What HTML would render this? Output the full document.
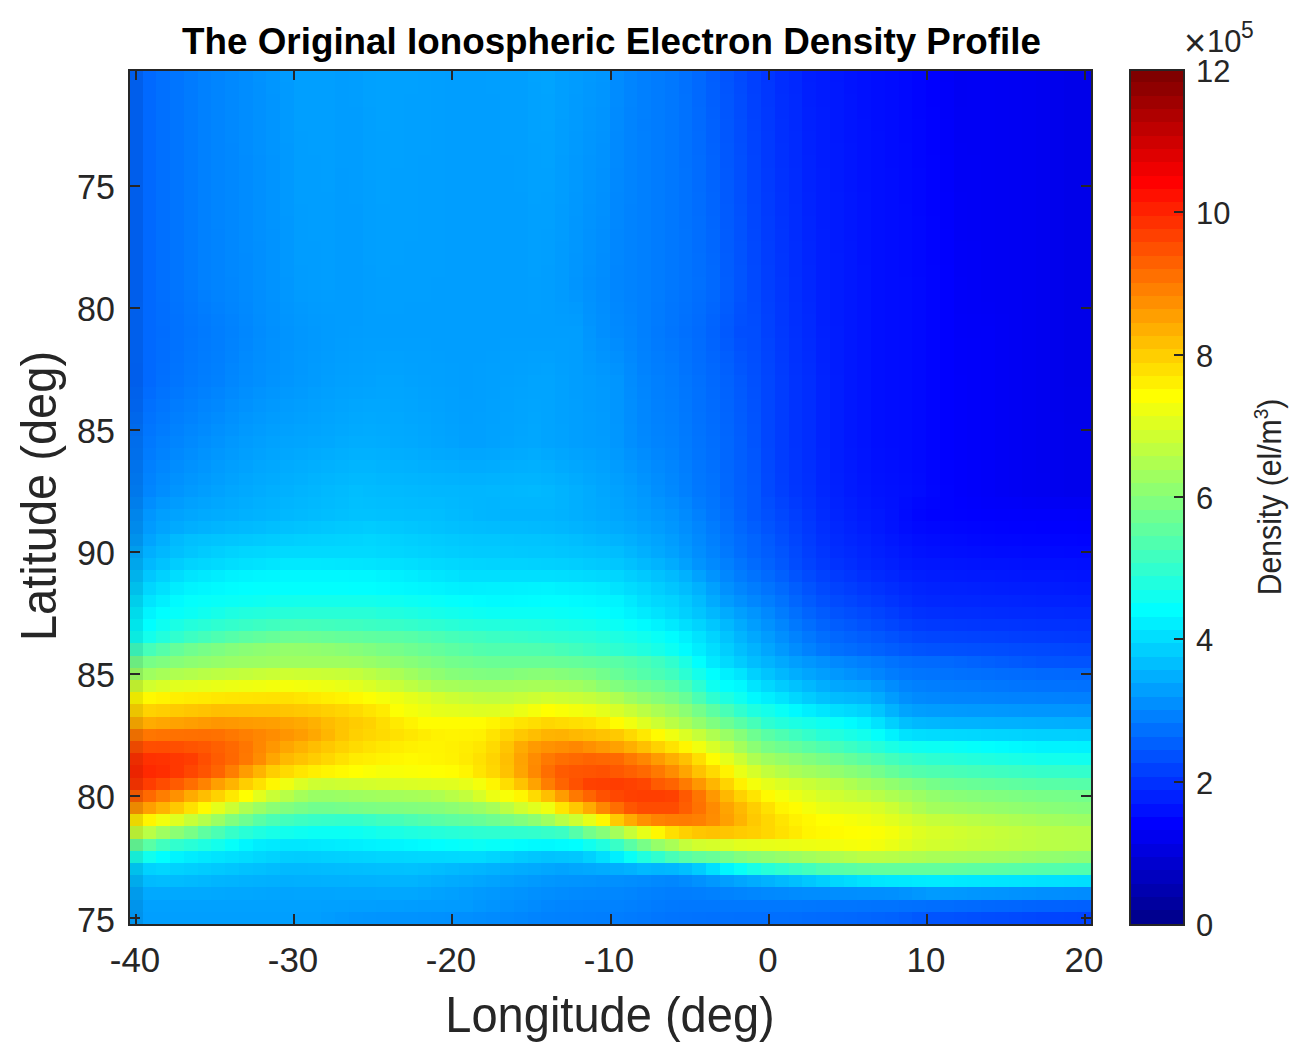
<!DOCTYPE html>
<html><head><meta charset="utf-8">
<style>
html,body{margin:0;padding:0;background:#fff;}
body{width:1312px;height:1060px;position:relative;overflow:hidden;font-family:"Liberation Sans",sans-serif;color:#262626;}
.t{position:absolute;white-space:nowrap;line-height:1;}
#title{left:1.5px;width:1220px;text-align:center;top:24px;font-size:36.8px;font-weight:bold;color:#000;}
.yl{right:1197.5px;font-size:34.9px;transform:scaleX(0.975);transform-origin:100% 50%;}
.xl{width:100px;text-align:center;font-size:34.9px;top:943px;transform:translateX(-1px) scaleX(1.0);}
.cl{left:1196px;font-size:31.9px;transform:scaleX(0.97);transform-origin:0 50%;}
#xlab{left:0;width:1220px;text-align:center;top:989.5px;font-size:49.5px;transform:scaleX(0.95);}
#ylab{font-size:49.5px;left:39px;top:495.7px;transform:translate(-50%,-50%) rotate(-90deg) scaleX(0.95);}
#clab{font-size:33.5px;left:1268px;top:497px;transform:translate(-50%,-50%) rotate(-90deg) scaleX(0.9);}
</style></head><body>
<svg width="1312" height="1060" style="position:absolute;left:0;top:0" shape-rendering="crispEdges">
<path fill="#005eeb" d="M129 70h14v12h-14zM129 82h14v12h-14zM129 94h14v13h-14zM129 107h14v12h-14zM129 119h14v12h-14zM129 131h14v12h-14zM129 143h14v12h-14zM129 155h14v13h-14zM129 168h14v12h-14zM129 180h14v12h-14zM129 192h14v12h-14zM129 204h14v12h-14zM129 216h14v13h-14zM129 229h14v12h-14zM129 241h14v12h-14zM129 253h14v12h-14zM129 265h14v12h-14zM129 277h14v13h-14zM129 290h14v12h-14zM129 363h14v12h-14zM129 375h14v12h-14z"/><path fill="#0069ff" d="M143 70h13v12h-13zM692 70h14v12h-14zM143 82h13v12h-13zM692 82h14v12h-14zM143 94h13v13h-13zM692 94h14v13h-14zM143 107h13v12h-13zM143 119h13v12h-13zM143 131h13v12h-13zM143 143h13v12h-13zM143 155h13v13h-13zM143 168h13v12h-13zM143 180h13v12h-13zM143 192h13v12h-13zM143 204h13v12h-13zM143 216h13v13h-13zM143 229h13v12h-13zM143 241h13v12h-13zM143 253h13v12h-13zM143 265h13v12h-13zM706 265h14v12h-14zM143 277h13v13h-13zM706 277h14v13h-14zM143 290h13v12h-13zM143 302h13v12h-13zM143 314h13v12h-13zM143 326h13v12h-13zM143 338h13v13h-13zM143 351h13v12h-13zM143 363h13v12h-13zM143 375h13v12h-13zM706 375h14v12h-14zM940 656h14v12h-14zM1036 668h28v12h-28zM830 912h14v12h-14z"/><path fill="#0070ff" d="M156 70h14v12h-14zM156 82h14v12h-14zM156 94h14v13h-14zM156 107h14v12h-14zM156 119h14v12h-14zM156 131h14v12h-14zM156 143h14v12h-14zM156 155h14v13h-14zM156 168h14v12h-14zM156 180h14v12h-14zM156 192h14v12h-14zM156 204h14v12h-14zM156 216h14v13h-14zM156 229h14v12h-14zM156 241h14v12h-14zM156 253h14v12h-14zM156 265h14v12h-14zM156 277h14v13h-14zM692 277h14v13h-14zM679 326h13v12h-13zM156 375h14v12h-14zM692 375h14v12h-14zM143 399h13v13h-13zM706 460h14v13h-14zM789 607h13v12h-13zM830 643h14v13h-14zM967 668h14v12h-14zM912 900h14v12h-14zM734 912h27v12h-27z"/><path fill="#0075ff" d="M170 70h14v12h-14zM170 82h14v12h-14zM170 94h14v13h-14zM170 107h14v12h-14zM170 119h14v12h-14zM170 131h14v12h-14zM170 143h14v12h-14zM170 155h14v13h-14zM170 168h14v12h-14zM170 180h14v12h-14zM170 192h14v12h-14zM170 204h14v12h-14zM170 216h14v13h-14zM170 229h14v12h-14zM170 241h14v12h-14zM170 253h14v12h-14zM170 265h14v12h-14zM170 277h14v13h-14zM665 326h14v12h-14zM170 375h14v12h-14zM692 448h14v12h-14zM706 497h14v12h-14zM720 534h14v12h-14zM734 558h13v12h-13zM912 668h14v12h-14zM1009 680h13v12h-13zM830 900h27v12h-27z"/><path fill="#007bff" d="M184 70h14v12h-14zM184 82h14v12h-14zM184 94h14v13h-14zM184 107h14v12h-14zM184 119h14v12h-14zM184 131h14v12h-14zM184 143h14v12h-14zM184 155h14v13h-14zM184 168h14v12h-14zM184 180h14v12h-14zM184 192h14v12h-14zM184 204h14v12h-14zM184 216h14v13h-14zM184 229h14v12h-14zM184 241h14v12h-14zM184 253h14v12h-14zM184 265h14v12h-14zM184 277h14v13h-14zM651 302h14v12h-14zM198 314h13v12h-13zM651 314h14v12h-14zM198 338h13v13h-13zM651 338h14v13h-14zM665 363h14v12h-14zM679 436h13v12h-13zM954 680h13v12h-13zM651 900h14v12h-14zM624 912h13v12h-13z"/><path fill="#0081ff" d="M198 70h13v12h-13zM198 82h13v12h-13zM198 94h13v13h-13zM198 107h13v12h-13zM198 119h13v12h-13zM198 131h13v12h-13zM198 143h13v12h-13zM198 155h13v13h-13zM198 168h13v12h-13zM198 180h13v12h-13zM198 192h13v12h-13zM198 204h13v12h-13zM198 216h13v13h-13zM198 229h13v12h-13zM198 241h13v12h-13zM198 253h13v12h-13zM198 265h13v12h-13zM198 277h13v13h-13zM211 302h14v12h-14zM637 338h14v13h-14zM211 375h14v12h-14zM198 387h13v12h-13zM651 399h14v13h-14zM665 436h14v12h-14zM679 485h13v12h-13zM692 509h14v12h-14zM1036 692h28v12h-28zM706 887h14v13h-14zM555 912h14v12h-14z"/><path fill="#0085ff" d="M211 70h14v12h-14zM624 70h13v12h-13zM211 82h14v12h-14zM624 82h13v12h-13zM211 94h14v13h-14zM624 94h13v13h-13zM211 107h14v12h-14zM211 119h14v12h-14zM211 131h14v12h-14zM211 143h14v12h-14zM211 155h14v13h-14zM211 168h14v12h-14zM211 180h14v12h-14zM211 192h14v12h-14zM211 204h14v12h-14zM211 216h14v13h-14zM225 302h14v12h-14zM624 314h13v12h-13zM637 375h14v12h-14zM211 387h14v12h-14zM198 399h13v13h-13zM170 436h14v12h-14zM665 460h14v13h-14zM871 668h14v12h-14zM954 692h27v12h-27zM624 887h13v13h-13zM734 887h13v13h-13zM555 900h14v12h-14z"/><path fill="#0089ff" d="M225 70h14v12h-14zM225 82h14v12h-14zM225 94h14v13h-14zM225 107h14v12h-14zM225 119h14v12h-14zM225 131h14v12h-14zM610 168h14v12h-14zM610 180h14v12h-14zM239 302h14v12h-14zM610 314h14v12h-14zM624 351h13v12h-13zM637 436h14v12h-14zM170 448h14v12h-14zM665 485h14v12h-14zM761 607h14v12h-14zM830 656h14v12h-14zM651 875h14v12h-14zM583 887h13v13h-13zM761 887h14v13h-14zM500 912h14v12h-14z"/><path fill="#008dff" d="M239 70h14v12h-14zM239 82h14v12h-14zM239 94h14v13h-14zM239 107h14v12h-14zM239 119h14v12h-14zM239 131h14v12h-14zM239 143h14v12h-14zM596 253h14v12h-14zM596 265h14v12h-14zM596 290h14v12h-14zM253 314h13v12h-13zM253 338h13v13h-13zM610 338h14v13h-14zM624 387h13v12h-13zM637 448h14v12h-14zM170 460h14v13h-14zM651 473h14v12h-14zM789 643h13v13h-13zM885 680h14v12h-14zM802 887h28v13h-28zM1064 887h13v13h-13zM473 912h13v12h-13z"/><path fill="#0092ff" d="M253 70h13v12h-13zM596 143h14v12h-14zM596 155h14v13h-14zM583 229h13v12h-13zM583 241h13v12h-13zM583 253h13v12h-13zM266 290h14v12h-14zM583 290h13v12h-13zM596 338h14v13h-14zM266 363h14v12h-14zM239 399h14v13h-14zM184 460h14v13h-14zM761 619h14v12h-14zM844 668h13v12h-13zM1009 887h13v13h-13zM418 912h13v12h-13z"/><path fill="#0096ff" d="M266 70h14v12h-14zM596 70h14v12h-14zM266 82h14v12h-14zM583 131h13v12h-13zM583 143h13v12h-13zM569 253h14v12h-14zM569 265h14v12h-14zM280 302h14v12h-14zM583 326h13v12h-13zM280 375h14v12h-14zM610 375h14v12h-14zM266 387h14v12h-14zM610 387h14v12h-14zM253 399h13v13h-13zM610 399h14v13h-14zM239 412h14v12h-14zM610 412h14v12h-14zM198 460h13v13h-13zM624 460h13v13h-13zM184 473h14v12h-14zM143 509h13v12h-13zM1022 704h28v13h-28zM967 887h14v13h-14zM349 912h14v12h-14z"/><path fill="#009bff" d="M280 70h14v12h-14zM569 94h14v13h-14zM569 107h14v12h-14zM569 119h14v12h-14zM555 241h14v12h-14zM555 253h14v12h-14zM555 265h14v12h-14zM555 277h14v13h-14zM294 290h14v12h-14zM555 290h14v12h-14zM308 302h13v12h-13zM321 314h14v12h-14zM321 326h14v12h-14zM321 338h14v13h-14zM308 363h13v12h-13zM308 375h13v12h-13zM294 387h14v12h-14zM596 412h14v12h-14zM596 424h14v12h-14zM225 448h14v12h-14zM211 460h14v13h-14zM143 521h13v13h-13zM940 704h14v13h-14zM926 887h14v13h-14zM445 900h28v12h-28z"/><path fill="#009fff" d="M294 70h41v12h-41zM431 70h14v12h-14zM486 70h42v12h-42zM555 70h14v12h-14zM294 82h41v12h-41zM431 82h14v12h-14zM486 82h42v12h-42zM555 82h14v12h-14zM294 94h41v13h-41zM431 94h14v13h-14zM500 94h28v13h-28zM555 94h14v13h-14zM294 107h41v12h-41zM431 107h14v12h-14zM500 107h28v12h-28zM555 107h14v12h-14zM294 119h41v12h-41zM431 119h14v12h-14zM500 119h28v12h-28zM308 131h27v12h-27zM431 131h14v12h-14zM500 131h28v12h-28zM308 143h27v12h-27zM431 143h14v12h-14zM500 143h28v12h-28zM321 155h14v13h-14zM418 155h27v13h-27zM514 155h14v13h-14zM321 168h14v12h-14zM418 168h27v12h-27zM514 168h14v12h-14zM321 180h14v12h-14zM363 180h13v12h-13zM418 180h27v12h-27zM514 180h14v12h-14zM363 192h13v12h-13zM418 192h27v12h-27zM363 204h13v12h-13zM418 204h27v12h-27zM363 216h13v13h-13zM418 216h27v13h-27zM363 229h13v12h-13zM418 229h27v12h-27zM541 229h14v12h-14zM363 241h13v12h-13zM404 241h41v12h-41zM541 241h14v12h-14zM363 253h13v12h-13zM404 253h41v12h-41zM541 253h14v12h-14zM390 265h55v12h-55zM376 277h55v13h-55zM528 277h13v13h-13zM376 290h55v12h-55zM528 290h13v12h-13zM376 302h28v12h-28zM528 302h13v12h-13zM363 338h68v13h-68zM500 338h69v13h-69zM349 351h14v12h-14zM431 351h14v12h-14zM486 351h14v12h-14zM555 351h14v12h-14zM335 363h14v12h-14zM445 363h14v12h-14zM473 363h13v12h-13zM445 375h14v12h-14zM473 375h13v12h-13zM473 387h13v12h-13zM459 399h27v13h-27zM569 399h14v13h-14zM459 412h14v12h-14zM569 412h14v12h-14zM266 424h14v12h-14zM569 424h14v12h-14zM253 436h13v12h-13zM569 436h14v12h-14zM239 448h14v12h-14zM225 460h14v13h-14zM610 473h14v12h-14zM624 497h13v12h-13zM156 509h14v12h-14zM734 607h13v12h-13zM789 656h13v12h-13zM720 875h14v12h-14zM349 900h27v12h-27zM143 912h178v12h-178z"/><path fill="#009dff" d="M335 70h14v12h-14zM335 82h14v12h-14zM335 94h14v13h-14zM335 107h28v12h-28zM335 119h28v12h-28zM335 131h28v12h-28zM335 143h28v12h-28zM335 155h28v13h-28zM555 155h14v13h-14zM349 168h14v12h-14zM555 168h14v12h-14zM349 180h14v12h-14zM555 180h14v12h-14zM349 192h14v12h-14zM555 192h14v12h-14zM294 204h14v12h-14zM294 216h14v13h-14zM294 229h14v12h-14zM294 241h27v12h-27zM294 253h27v12h-27zM308 265h13v12h-13zM308 277h13v13h-13zM321 290h14v12h-14zM555 314h14v12h-14zM349 326h14v12h-14zM335 338h14v13h-14zM321 363h14v12h-14zM583 412h13v12h-13zM583 424h13v12h-13zM583 436h13v12h-13zM624 485h13v12h-13zM637 509h14v12h-14zM651 521h14v13h-14zM665 534h14v12h-14zM514 875h14v12h-14zM459 887h14v13h-14zM404 900h14v12h-14z"/><path fill="#009eff" d="M349 70h14v12h-14zM445 70h41v12h-41zM349 82h14v12h-14zM445 82h41v12h-41zM349 94h14v13h-14zM445 94h55v13h-55zM445 107h55v12h-55zM445 119h55v12h-55zM555 119h14v12h-14zM294 131h14v12h-14zM445 131h55v12h-55zM555 131h14v12h-14zM294 143h14v12h-14zM445 143h55v12h-55zM555 143h14v12h-14zM294 155h27v13h-27zM445 155h69v13h-69zM294 168h27v12h-27zM445 168h69v12h-69zM294 180h27v12h-27zM445 180h69v12h-69zM294 192h41v12h-41zM445 192h83v12h-83zM308 204h27v12h-27zM445 204h83v12h-83zM308 216h27v13h-27zM445 216h83v13h-83zM308 229h27v12h-27zM445 229h83v12h-83zM321 241h14v12h-14zM445 241h83v12h-83zM321 253h14v12h-14zM445 253h83v12h-83zM321 265h14v12h-14zM363 265h13v12h-13zM445 265h83v12h-83zM541 265h14v12h-14zM321 277h14v13h-14zM363 277h13v13h-13zM431 277h97v13h-97zM541 277h14v13h-14zM363 290h13v12h-13zM431 290h97v12h-97zM541 290h14v12h-14zM363 302h13v12h-13zM404 302h124v12h-124zM541 302h14v12h-14zM363 314h192v12h-192zM363 326h220v12h-220zM349 338h14v13h-14zM431 338h69v13h-69zM569 338h14v13h-14zM335 351h14v12h-14zM445 351h41v12h-41zM569 351h14v12h-14zM459 363h14v12h-14zM569 363h14v12h-14zM321 375h14v12h-14zM459 375h14v12h-14zM569 375h14v12h-14zM308 387h13v12h-13zM459 387h14v12h-14zM569 387h14v12h-14zM294 399h14v13h-14zM280 412h14v12h-14zM596 448h14v12h-14zM211 473h14v12h-14zM198 485h13v12h-13zM747 619h14v12h-14zM816 668h14v12h-14zM912 704h14v13h-14zM376 900h28v12h-28z"/><path fill="#00a1ff" d="M363 70h13v12h-13zM390 70h28v12h-28zM363 82h13v12h-13zM390 82h28v12h-28zM363 94h13v13h-13zM390 94h14v13h-14zM390 107h14v12h-14zM390 119h14v12h-14zM376 131h28v12h-28zM376 143h28v12h-28zM528 143h13v12h-13zM376 155h28v13h-28zM528 155h13v13h-13zM376 168h14v12h-14zM528 168h27v12h-27zM376 180h14v12h-14zM528 180h27v12h-27zM376 192h14v12h-14zM528 192h13v12h-13zM376 351h28v12h-28zM528 351h27v12h-27zM363 363h13v12h-13zM404 363h14v12h-14zM514 363h14v12h-14zM349 375h14v12h-14zM418 375h13v12h-13zM500 375h14v12h-14zM555 375h14v12h-14zM431 387h14v12h-14zM555 387h14v12h-14zM486 399h14v13h-14zM555 399h14v13h-14zM445 412h14v12h-14zM486 412h14v12h-14zM555 412h14v12h-14zM280 424h14v12h-14zM583 448h13v12h-13zM596 460h14v13h-14zM184 497h14v12h-14zM679 558h13v12h-13zM706 582h14v13h-14zM857 680h14v12h-14zM143 900h178v12h-178z"/><path fill="#00a2ff" d="M376 70h14v12h-14zM376 82h14v12h-14zM528 82h13v12h-13zM376 94h14v13h-14zM528 94h13v13h-13zM376 107h14v12h-14zM528 107h13v12h-13zM376 119h14v12h-14zM528 119h13v12h-13zM528 131h27v12h-27zM541 143h14v12h-14zM541 155h14v13h-14zM376 363h28v12h-28zM528 363h13v12h-13zM363 375h13v12h-13zM404 375h14v12h-14zM514 375h14v12h-14zM335 387h14v12h-14zM418 387h13v12h-13zM500 387h14v12h-14zM321 399h14v13h-14zM431 399h14v13h-14zM500 399h14v13h-14zM308 412h13v12h-13zM445 424h14v12h-14zM486 424h14v12h-14zM555 424h14v12h-14zM266 436h14v12h-14zM486 436h14v12h-14zM555 436h14v12h-14zM253 448h13v12h-13zM239 460h14v13h-14zM225 473h14v12h-14zM211 485h14v12h-14zM610 485h14v12h-14zM624 509h13v12h-13zM637 521h14v13h-14zM665 546h14v12h-14zM692 570h14v12h-14zM431 887h14v13h-14z"/><path fill="#00a0ff" d="M418 70h13v12h-13zM418 82h13v12h-13zM404 94h27v13h-27zM363 107h13v12h-13zM404 107h27v12h-27zM363 119h13v12h-13zM404 119h27v12h-27zM363 131h13v12h-13zM404 131h27v12h-27zM363 143h13v12h-13zM404 143h27v12h-27zM363 155h13v13h-13zM404 155h14v13h-14zM363 168h13v12h-13zM390 168h28v12h-28zM390 180h28v12h-28zM390 192h28v12h-28zM541 192h14v12h-14zM376 204h42v12h-42zM528 204h27v12h-27zM376 216h42v13h-42zM528 216h27v13h-27zM376 229h42v12h-42zM528 229h13v12h-13zM376 241h28v12h-28zM528 241h13v12h-13zM376 253h28v12h-28zM528 253h13v12h-13zM376 265h14v12h-14zM528 265h13v12h-13zM363 351h13v12h-13zM404 351h27v12h-27zM500 351h28v12h-28zM349 363h14v12h-14zM418 363h27v12h-27zM486 363h28v12h-28zM555 363h14v12h-14zM335 375h14v12h-14zM431 375h14v12h-14zM486 375h14v12h-14zM321 387h14v12h-14zM445 387h14v12h-14zM486 387h14v12h-14zM308 399h13v13h-13zM445 399h14v13h-14zM294 412h14v12h-14zM473 412h13v12h-13zM459 424h27v12h-27zM459 436h27v12h-27zM500 875h14v12h-14zM445 887h14v13h-14zM321 900h28v12h-28z"/><path fill="#00a3ff" d="M528 70h13v12h-13zM541 94h14v13h-14zM541 107h14v12h-14zM541 119h14v12h-14zM541 363h14v12h-14zM349 387h14v12h-14zM514 387h14v12h-14zM418 399h13v13h-13zM431 412h14v12h-14zM500 412h14v12h-14zM294 424h14v12h-14zM500 424h14v12h-14zM445 436h14v12h-14zM569 448h14v12h-14zM170 509h14v12h-14zM486 875h14v12h-14z"/><path fill="#00a4ff" d="M541 70h14v12h-14zM541 82h14v12h-14zM376 375h28v12h-28zM528 375h27v12h-27zM363 387h13v12h-13zM404 387h14v12h-14zM528 387h27v12h-27zM335 399h14v13h-14zM514 399h14v13h-14zM541 399h14v13h-14zM321 412h14v12h-14zM514 412h14v12h-14zM541 412h14v12h-14zM308 424h13v12h-13zM431 424h14v12h-14zM541 424h14v12h-14zM280 436h14v12h-14zM500 436h14v12h-14zM541 436h14v12h-14zM583 460h13v13h-13zM596 473h14v12h-14zM198 497h13v12h-13zM610 497h14v12h-14zM156 521h14v13h-14zM143 534h13v12h-13zM651 534h14v12h-14zM844 680h13v12h-13zM899 704h13v13h-13zM555 863h14v12h-14zM280 887h14v13h-14z"/><path fill="#009cff" d="M569 70h14v12h-14zM569 82h14v12h-14zM335 168h14v12h-14zM335 180h14v12h-14zM335 192h14v12h-14zM335 204h28v12h-28zM555 204h14v12h-14zM335 216h28v13h-28zM555 216h14v13h-14zM335 229h28v12h-28zM555 229h14v12h-14zM335 241h28v12h-28zM335 253h28v12h-28zM294 265h14v12h-14zM335 265h28v12h-28zM294 277h14v13h-14zM335 277h28v13h-28zM308 290h13v12h-13zM335 290h28v12h-28zM321 302h42v12h-42zM555 302h14v12h-14zM335 314h28v12h-28zM569 314h14v12h-14zM335 326h14v12h-14zM321 351h14v12h-14zM583 375h13v12h-13zM583 387h13v12h-13zM280 399h14v13h-14zM583 399h13v13h-13zM266 412h14v12h-14zM253 424h13v12h-13zM239 436h14v12h-14zM596 436h14v12h-14zM610 460h14v13h-14zM170 497h14v12h-14zM720 595h14v12h-14zM761 631h14v12h-14zM885 692h14v12h-14zM926 704h14v13h-14zM418 900h27v12h-27zM321 912h14v12h-14z"/><path fill="#0099ff" d="M583 70h13v12h-13zM280 143h14v12h-14zM280 155h14v13h-14zM569 155h14v13h-14zM280 168h14v12h-14zM569 168h14v12h-14zM280 180h14v12h-14zM569 180h14v12h-14zM280 192h14v12h-14zM280 204h14v12h-14zM294 302h14v12h-14zM308 326h13v12h-13zM308 338h13v13h-13zM583 351h13v12h-13zM294 375h14v12h-14zM596 375h14v12h-14zM280 387h14v12h-14zM266 399h14v13h-14zM253 412h13v12h-13zM239 424h14v12h-14zM679 546h13v12h-13zM775 643h14v13h-14zM967 704h28v13h-28zM940 887h14v13h-14zM335 912h14v12h-14z"/><path fill="#008cff" d="M610 70h14v12h-14zM610 82h14v12h-14zM610 94h14v13h-14zM239 155h14v13h-14zM239 168h14v12h-14zM239 180h14v12h-14zM239 192h14v12h-14zM239 204h14v12h-14zM239 216h14v13h-14zM239 229h14v12h-14zM239 241h14v12h-14zM596 277h14v13h-14zM253 326h13v12h-13zM239 375h14v12h-14zM624 375h13v12h-13zM211 412h14v12h-14zM857 668h14v12h-14zM637 875h14v12h-14zM555 887h14v13h-14zM789 887h13v13h-13zM1077 887h14v13h-14z"/><path fill="#0080ff" d="M637 70h14v12h-14zM637 82h14v12h-14zM637 94h14v13h-14zM637 107h14v12h-14zM637 131h14v12h-14zM637 143h14v12h-14zM637 155h14v13h-14zM637 168h14v12h-14zM637 180h14v12h-14zM637 192h14v12h-14zM637 204h14v12h-14zM637 216h14v13h-14zM637 229h14v12h-14zM637 241h14v12h-14zM637 253h14v12h-14zM637 265h14v12h-14zM637 277h14v13h-14zM637 290h14v12h-14zM637 302h14v12h-14zM637 314h14v12h-14zM637 326h14v12h-14zM211 363h14v12h-14zM651 375h14v12h-14zM651 387h14v12h-14zM184 399h14v13h-14zM665 424h14v12h-14zM156 436h14v12h-14zM143 460h13v13h-13zM679 473h13v12h-13zM706 534h14v12h-14zM720 558h14v12h-14zM912 680h14v12h-14zM1064 692h27v12h-27zM651 887h14v13h-14zM624 900h13v12h-13zM569 912h14v12h-14z"/><path fill="#007cff" d="M651 70h14v12h-14zM651 82h14v12h-14zM651 94h14v13h-14zM651 107h14v12h-14zM651 119h14v12h-14zM651 131h14v12h-14zM651 143h14v12h-14zM651 155h14v13h-14zM651 168h14v12h-14zM651 180h14v12h-14zM651 192h14v12h-14zM651 204h14v12h-14zM651 216h14v13h-14zM651 229h14v12h-14zM651 241h14v12h-14zM651 253h14v12h-14zM651 265h14v12h-14zM651 277h14v13h-14zM651 290h14v12h-14zM198 351h13v12h-13zM665 375h14v12h-14zM170 399h14v13h-14zM156 424h14v12h-14zM143 448h13v12h-13zM679 448h13v12h-13zM692 497h14v12h-14zM706 521h14v13h-14zM734 570h13v12h-13zM775 607h14v12h-14zM940 680h14v12h-14z"/><path fill="#0078ff" d="M665 70h14v12h-14zM665 82h14v12h-14zM665 94h14v13h-14zM665 107h14v12h-14zM665 119h14v12h-14zM665 131h14v12h-14zM665 143h14v12h-14zM665 155h14v13h-14zM665 168h14v12h-14zM665 180h14v12h-14zM665 192h14v12h-14zM665 204h14v12h-14zM665 216h14v13h-14zM665 229h14v12h-14zM665 241h14v12h-14zM665 253h14v12h-14zM665 265h14v12h-14zM665 277h14v13h-14zM184 302h14v12h-14zM184 351h14v12h-14zM170 387h14v12h-14zM679 399h13v13h-13zM692 485h14v12h-14zM802 631h14v12h-14zM816 643h14v13h-14zM899 668h13v12h-13zM981 680h14v12h-14zM679 900h123v12h-123z"/><path fill="#0071ff" d="M679 70h13v12h-13zM679 82h13v12h-13zM679 314h13v12h-13zM692 387h14v12h-14zM692 399h14v13h-14zM720 521h14v13h-14zM954 668h13v12h-13zM1077 680h14v12h-14zM899 900h13v12h-13zM706 912h28v12h-28z"/><path fill="#005eff" d="M706 70h14v12h-14zM720 277h14v13h-14zM720 351h14v12h-14zM734 436h13v12h-13zM734 448h13v12h-13zM747 521h14v13h-14zM789 582h13v13h-13zM899 912h13v12h-13z"/><path fill="#0054ff" d="M720 70h14v12h-14zM734 265h13v12h-13zM734 277h13v13h-13zM734 351h13v12h-13zM747 424h14v12h-14zM747 436h14v12h-14zM761 521h14v13h-14zM775 546h14v12h-14zM789 570h13v12h-13zM912 643h14v13h-14zM1036 656h28v12h-28zM926 912h14v12h-14z"/><path fill="#004aff" d="M734 70h13v12h-13zM747 290h14v12h-14zM802 570h14v12h-14zM830 595h14v12h-14zM1022 643h14v13h-14zM1009 912h13v12h-13z"/><path fill="#0040ff" d="M747 70h14v12h-14zM747 82h14v12h-14zM761 302h14v12h-14zM899 619h13v12h-13zM995 631h14v12h-14z"/><path fill="#0036ff" d="M761 70h14v12h-14zM775 277h14v13h-14zM775 290h14v12h-14zM789 485h13v12h-13zM899 607h13v12h-13zM967 619h14v12h-14z"/><path fill="#002dff" d="M775 70h14v12h-14zM775 82h14v12h-14zM789 241h13v12h-13zM789 253h13v12h-13zM789 265h13v12h-13zM802 375h14v12h-14zM802 387h14v12h-14zM802 399h14v13h-14zM802 412h14v12h-14zM802 424h14v12h-14zM802 436h14v12h-14zM802 448h14v12h-14zM830 546h14v12h-14zM844 558h13v12h-13zM885 582h14v13h-14zM954 607h27v12h-27z"/><path fill="#0028ff" d="M789 70h13v12h-13zM789 82h13v12h-13zM802 302h14v12h-14zM899 582h13v13h-13zM1064 607h27v12h-27z"/><path fill="#001eff" d="M802 70h14v12h-14zM816 229h14v12h-14zM816 241h14v12h-14zM816 253h14v12h-14zM816 265h14v12h-14zM816 277h14v13h-14zM830 460h14v13h-14zM912 570h14v12h-14zM995 582h14v13h-14z"/><path fill="#001bff" d="M816 70h14v12h-14zM816 82h14v12h-14zM816 94h14v13h-14zM830 253h14v12h-14zM830 265h14v12h-14zM830 277h14v13h-14zM830 290h14v12h-14zM830 302h14v12h-14zM830 314h14v12h-14zM885 546h14v12h-14zM940 570h14v12h-14zM1050 582h14v13h-14z"/><path fill="#0017ff" d="M830 70h14v12h-14zM844 241h13v12h-13zM844 253h13v12h-13zM844 265h13v12h-13zM844 277h13v13h-13zM844 290h13v12h-13zM844 302h13v12h-13zM844 314h13v12h-13zM844 326h13v12h-13zM844 338h13v13h-13zM844 351h13v12h-13zM844 363h13v12h-13zM844 375h13v12h-13zM844 387h13v12h-13zM844 399h13v13h-13zM844 412h13v12h-13zM844 424h13v12h-13zM844 436h13v12h-13zM871 509h14v12h-14zM885 534h14v12h-14zM912 558h14v12h-14zM1009 570h13v12h-13z"/><path fill="#0013ff" d="M844 70h13v12h-13zM844 82h13v12h-13zM857 265h14v12h-14zM857 277h14v13h-14zM857 290h14v12h-14zM857 302h14v12h-14zM857 314h14v12h-14zM857 326h14v12h-14zM857 338h14v13h-14zM857 351h14v12h-14zM857 363h14v12h-14zM857 375h14v12h-14zM857 387h14v12h-14zM857 399h14v13h-14zM857 412h14v12h-14zM857 424h14v12h-14zM857 436h14v12h-14zM885 521h14v13h-14zM967 558h14v12h-14zM1077 570h14v12h-14z"/><path fill="#0010ff" d="M857 70h14v12h-14zM857 82h14v12h-14zM857 94h14v13h-14zM857 107h14v12h-14zM871 460h14v13h-14zM885 485h14v12h-14zM926 546h14v12h-14zM1022 558h28v12h-28z"/><path fill="#000dff" d="M871 70h14v12h-14zM871 82h14v12h-14zM871 94h14v13h-14zM871 107h14v12h-14zM871 119h14v12h-14zM885 448h14v12h-14zM899 473h13v12h-13zM899 521h13v13h-13zM967 546h14v12h-14z"/><path fill="#000bff" d="M885 70h14v12h-14zM885 82h14v12h-14zM885 94h14v13h-14zM885 107h14v12h-14zM885 119h14v12h-14zM885 131h14v12h-14zM885 143h14v12h-14zM885 155h14v13h-14zM899 277h13v13h-13zM899 290h13v12h-13zM899 302h13v12h-13zM899 314h13v12h-13zM899 326h13v12h-13zM899 338h13v13h-13zM899 351h13v12h-13zM899 363h13v12h-13zM899 375h13v12h-13zM899 387h13v12h-13zM899 399h13v13h-13zM899 412h13v12h-13zM899 424h13v12h-13zM899 436h13v12h-13zM899 448h13v12h-13zM912 485h14v12h-14zM899 509h13v12h-13zM940 534h14v12h-14zM995 546h27v12h-27z"/><path fill="#0008ff" d="M899 70h13v12h-13zM899 82h13v12h-13zM899 94h13v13h-13zM899 107h13v12h-13zM899 119h13v12h-13zM899 131h13v12h-13zM912 277h14v13h-14zM912 290h14v12h-14zM912 302h14v12h-14zM912 314h14v12h-14zM912 326h14v12h-14zM912 338h14v13h-14zM912 351h14v12h-14zM912 363h14v12h-14zM912 375h14v12h-14zM912 387h14v12h-14zM912 399h14v13h-14zM912 412h14v12h-14zM912 424h14v12h-14zM912 436h14v12h-14zM912 448h14v12h-14zM967 534h14v12h-14zM1064 546h27v12h-27z"/><path fill="#0004ff" d="M912 70h14v12h-14zM912 82h14v12h-14zM912 94h14v13h-14zM912 107h14v12h-14zM926 265h14v12h-14zM926 277h14v13h-14zM926 290h14v12h-14zM926 302h14v12h-14zM926 314h14v12h-14zM926 326h14v12h-14zM926 338h14v13h-14zM926 351h14v12h-14zM926 363h14v12h-14zM926 375h14v12h-14zM926 387h14v12h-14zM926 399h14v13h-14zM926 412h14v12h-14zM926 424h14v12h-14zM926 436h14v12h-14zM926 448h14v12h-14zM926 497h14v12h-14zM967 521h14v13h-14zM1050 534h27v12h-27z"/><path fill="#0000ff" d="M926 70h14v12h-14zM926 82h14v12h-14zM926 94h14v13h-14zM940 265h14v12h-14zM940 277h14v13h-14zM940 290h14v12h-14zM940 302h14v12h-14zM940 314h14v12h-14zM940 326h14v12h-14zM940 338h14v13h-14zM940 351h14v12h-14zM940 363h14v12h-14zM940 375h14v12h-14zM940 387h14v12h-14zM940 399h14v13h-14zM940 412h14v12h-14zM940 424h14v12h-14zM940 436h14v12h-14zM940 448h14v12h-14zM954 497h13v12h-13zM967 509h14v12h-14zM1036 521h14v13h-14z"/><path fill="#0000f9" d="M940 70h14v12h-14zM954 277h13v13h-13zM954 290h13v12h-13zM954 302h13v12h-13zM967 314h14v12h-14zM967 326h28v12h-28zM981 338h14v13h-14zM981 351h14v12h-14zM981 363h14v12h-14zM981 375h14v12h-14zM981 387h14v12h-14zM981 399h14v13h-14zM981 412h14v12h-14zM981 424h14v12h-14zM981 436h14v12h-14zM981 448h14v12h-14zM981 460h14v13h-14zM981 473h14v12h-14zM981 485h14v12h-14zM1009 497h13v12h-13z"/><path fill="#0000f4" d="M954 70h13v12h-13zM995 70h14v12h-14zM954 82h13v12h-13zM995 82h14v12h-14zM954 94h13v13h-13zM995 94h14v13h-14zM995 107h14v12h-14zM995 119h14v12h-14zM995 131h14v12h-14zM995 143h14v12h-14zM995 155h14v13h-14zM995 168h14v12h-14zM995 180h14v12h-14zM995 192h14v12h-14zM995 204h14v12h-14zM995 216h14v13h-14zM995 229h14v12h-14zM995 241h14v12h-14zM995 253h14v12h-14zM995 265h14v12h-14zM995 277h14v13h-14zM1009 290h13v12h-13zM1009 302h13v12h-13zM1009 314h13v12h-13zM1009 326h13v12h-13zM1009 338h13v13h-13zM1009 351h13v12h-13zM1009 363h13v12h-13zM1009 375h13v12h-13zM1009 387h13v12h-13zM1009 399h13v13h-13zM1009 412h13v12h-13zM1009 424h13v12h-13zM1009 436h13v12h-13zM1009 448h13v12h-13zM1009 460h13v13h-13zM1009 473h13v12h-13zM1009 485h13v12h-13zM1064 497h27v12h-27z"/><path fill="#0000f5" d="M967 70h28v12h-28zM967 82h28v12h-28zM967 94h28v13h-28zM954 107h41v12h-41zM954 119h41v12h-41zM954 131h41v12h-41zM967 143h28v12h-28zM981 155h14v13h-14zM981 168h14v12h-14zM981 180h14v12h-14zM981 192h14v12h-14zM981 204h14v12h-14zM981 216h14v13h-14zM981 229h14v12h-14zM981 241h14v12h-14zM981 253h14v12h-14zM981 265h14v12h-14zM981 277h14v13h-14zM995 290h14v12h-14zM995 302h14v12h-14zM1050 497h14v12h-14z"/><path fill="#0000f3" d="M1009 70h13v12h-13zM1009 82h13v12h-13zM1009 94h13v13h-13zM1009 107h13v12h-13zM1009 119h13v12h-13zM1009 131h13v12h-13zM1009 143h13v12h-13zM1009 155h13v13h-13zM1009 168h13v12h-13zM1009 180h13v12h-13zM1009 192h13v12h-13zM1009 204h13v12h-13zM1009 216h13v13h-13zM1009 229h13v12h-13zM1009 241h13v12h-13zM1009 253h13v12h-13zM1009 265h13v12h-13zM1009 277h13v13h-13z"/><path fill="#0000f2" d="M1022 70h14v12h-14zM1022 82h14v12h-14zM1022 94h14v13h-14zM1022 107h14v12h-14zM1022 119h14v12h-14zM1022 131h14v12h-14zM1022 143h14v12h-14zM1022 155h14v13h-14zM1022 168h14v12h-14zM1022 180h14v12h-14zM1022 192h14v12h-14zM1022 204h14v12h-14zM1022 216h14v13h-14zM1022 229h14v12h-14zM1022 241h14v12h-14zM1022 253h14v12h-14zM1022 265h14v12h-14zM1022 277h14v13h-14zM1022 290h14v12h-14zM1022 302h14v12h-14zM1022 314h14v12h-14zM1022 326h14v12h-14zM1022 338h14v13h-14zM1022 351h14v12h-14zM1022 363h14v12h-14zM1022 375h14v12h-14zM1022 387h14v12h-14zM1022 399h14v13h-14zM1022 412h14v12h-14zM1022 424h14v12h-14zM1022 436h14v12h-14zM1022 448h14v12h-14zM1022 460h14v13h-14zM1022 473h14v12h-14zM1022 485h14v12h-14z"/><path fill="#0000f0" d="M1036 70h14v12h-14zM1036 82h14v12h-14zM1036 94h14v13h-14zM1036 107h14v12h-14zM1036 119h14v12h-14zM1036 131h14v12h-14zM1036 143h14v12h-14zM1036 155h14v13h-14zM1036 168h14v12h-14zM1036 180h14v12h-14zM1036 192h14v12h-14zM1036 204h14v12h-14zM1036 216h14v13h-14zM1036 229h14v12h-14zM1036 241h14v12h-14zM1036 253h14v12h-14zM1036 265h14v12h-14zM1036 277h14v13h-14zM1036 290h14v12h-14zM1036 302h14v12h-14zM1036 314h14v12h-14zM1036 326h14v12h-14zM1036 338h14v13h-14zM1036 351h14v12h-14zM1036 363h14v12h-14zM1036 375h14v12h-14zM1036 387h14v12h-14zM1036 399h14v13h-14zM1036 412h14v12h-14zM1036 424h14v12h-14zM1036 436h14v12h-14zM1036 448h14v12h-14zM1036 460h14v13h-14z"/><path fill="#0000ed" d="M1050 70h14v12h-14zM1050 82h14v12h-14zM1050 94h14v13h-14zM1050 107h14v12h-14zM1050 119h14v12h-14zM1050 131h14v12h-14zM1050 143h14v12h-14zM1050 155h14v13h-14zM1050 168h14v12h-14zM1050 180h14v12h-14zM1050 192h14v12h-14zM1050 204h14v12h-14zM1050 216h14v13h-14zM1050 229h14v12h-14zM1050 241h14v12h-14zM1050 253h14v12h-14zM1050 265h14v12h-14zM1050 277h14v13h-14zM1050 290h14v12h-14zM1050 302h14v12h-14zM1050 314h14v12h-14zM1050 326h14v12h-14zM1050 338h14v13h-14zM1050 351h14v12h-14zM1050 363h14v12h-14zM1050 375h14v12h-14zM1050 387h14v12h-14zM1050 399h14v13h-14zM1064 460h27v13h-27zM1064 473h27v12h-27zM1064 485h27v12h-27z"/><path fill="#0000ea" d="M1064 70h27v12h-27zM1064 82h27v12h-27zM1064 94h27v13h-27zM1064 107h27v12h-27zM1064 119h27v12h-27zM1064 131h27v12h-27zM1064 143h27v12h-27zM1064 155h27v13h-27zM1064 168h27v12h-27zM1064 180h27v12h-27zM1064 192h27v12h-27zM1064 204h27v12h-27zM1064 216h27v13h-27zM1064 229h27v12h-27zM1064 241h27v12h-27zM1064 253h27v12h-27zM1064 265h27v12h-27zM1064 277h27v13h-27zM1064 290h27v12h-27zM1064 302h27v12h-27zM1064 314h27v12h-27zM1064 326h27v12h-27zM1064 338h27v13h-27zM1064 351h27v12h-27zM1064 363h27v12h-27zM1064 375h27v12h-27z"/><path fill="#0091ff" d="M253 82h13v12h-13zM253 94h13v13h-13zM253 107h13v12h-13zM253 119h13v12h-13zM253 131h13v12h-13zM253 143h13v12h-13zM596 168h14v12h-14zM596 180h14v12h-14zM583 265h13v12h-13zM266 302h14v12h-14zM266 314h14v12h-14zM266 338h14v13h-14zM266 351h14v12h-14zM225 412h14v12h-14zM170 473h14v12h-14zM720 582h14v13h-14zM734 595h13v12h-13zM596 875h14v12h-14zM692 875h14v12h-14zM1022 887h14v13h-14zM500 900h14v12h-14zM431 912h14v12h-14z"/><path fill="#009aff" d="M280 82h14v12h-14zM280 94h14v13h-14zM280 107h14v12h-14zM280 119h14v12h-14zM280 131h14v12h-14zM569 131h14v12h-14zM569 143h14v12h-14zM569 302h14v12h-14zM308 314h13v12h-13zM308 351h13v12h-13zM583 363h13v12h-13zM596 387h14v12h-14zM596 399h14v13h-14zM610 448h14v12h-14zM198 473h13v12h-13zM624 473h13v12h-13zM184 485h14v12h-14zM637 497h14v12h-14zM954 704h13v13h-13zM528 875h13v12h-13zM473 887h13v13h-13z"/><path fill="#0098ff" d="M583 82h13v12h-13zM583 94h13v13h-13zM569 192h14v12h-14zM569 204h14v12h-14zM280 216h14v13h-14zM280 229h14v12h-14zM280 241h14v12h-14zM280 253h14v12h-14zM280 265h14v12h-14zM294 314h14v12h-14zM294 351h14v12h-14zM294 363h14v12h-14zM225 436h14v12h-14zM651 509h14v12h-14zM830 668h14v12h-14zM871 680h14v12h-14zM995 704h14v13h-14zM706 875h14v12h-14zM486 887h14v13h-14zM954 887h13v13h-13z"/><path fill="#0095ff" d="M596 82h14v12h-14zM266 94h14v13h-14zM596 94h14v13h-14zM266 107h14v12h-14zM266 119h14v12h-14zM266 131h14v12h-14zM266 143h14v12h-14zM583 155h13v13h-13zM583 168h13v12h-13zM569 277h14v13h-14zM280 314h14v12h-14zM280 351h14v12h-14zM280 363h14v12h-14zM170 485h14v12h-14zM747 607h14v12h-14zM1050 704h27v13h-27zM555 875h14v12h-14zM500 887h14v13h-14zM981 887h14v13h-14zM363 912h13v12h-13z"/><path fill="#005fff" d="M706 82h14v12h-14zM706 94h14v13h-14zM734 460h13v13h-13zM734 473h13v12h-13z"/><path fill="#0055ff" d="M720 82h14v12h-14z"/><path fill="#004bff" d="M734 82h13v12h-13zM747 302h14v12h-14zM775 521h14v13h-14zM1009 643h13v13h-13z"/><path fill="#0037ff" d="M761 82h14v12h-14zM761 94h14v13h-14zM775 302h14v12h-14zM775 314h14v12h-14zM857 582h14v13h-14zM954 619h13v12h-13z"/><path fill="#001fff" d="M802 82h14v12h-14zM802 94h14v13h-14zM816 290h14v12h-14zM816 302h14v12h-14zM816 314h14v12h-14zM830 473h14v12h-14zM844 509h13v12h-13zM871 546h14v12h-14zM885 558h14v12h-14zM981 582h14v13h-14z"/><path fill="#0018ff" d="M830 82h14v12h-14zM830 94h14v13h-14zM830 107h14v12h-14zM830 119h14v12h-14zM830 131h14v12h-14zM844 448h13v12h-13zM857 497h14v12h-14zM871 521h14v13h-14zM995 570h14v12h-14z"/><path fill="#0000fa" d="M940 82h14v12h-14zM940 94h14v13h-14zM940 107h14v12h-14zM954 314h13v12h-13zM954 326h13v12h-13zM967 338h14v13h-14zM967 351h14v12h-14zM967 363h14v12h-14zM967 375h14v12h-14zM967 387h14v12h-14zM967 399h14v13h-14zM967 412h14v12h-14zM967 424h14v12h-14zM967 436h14v12h-14zM967 448h14v12h-14zM995 497h14v12h-14zM1077 509h14v12h-14z"/><path fill="#0072ff" d="M679 94h13v13h-13zM679 107h13v12h-13zM679 119h13v12h-13zM679 131h13v12h-13zM679 143h13v12h-13zM679 155h13v13h-13zM679 302h13v12h-13zM170 314h14v12h-14zM170 326h14v12h-14zM170 338h14v13h-14zM679 338h13v13h-13zM692 412h14v12h-14zM706 473h14v12h-14zM1050 680h27v12h-27zM692 912h14v12h-14z"/><path fill="#0056ff" d="M720 94h14v13h-14zM720 107h14v12h-14zM734 363h13v12h-13zM747 448h14v12h-14z"/><path fill="#004cff" d="M734 94h13v13h-13zM734 107h13v12h-13zM747 314h14v12h-14zM789 558h13v12h-13zM871 619h14v12h-14zM899 631h13v12h-13zM995 912h14v12h-14z"/><path fill="#0041ff" d="M747 94h14v13h-14zM747 107h14v12h-14zM761 314h14v12h-14zM761 326h14v12h-14zM789 521h13v13h-13zM816 570h14v12h-14zM981 631h14v12h-14z"/><path fill="#002eff" d="M775 94h14v13h-14zM775 107h14v12h-14zM789 277h13v13h-13zM789 290h13v12h-13zM802 460h14v13h-14zM816 521h14v13h-14zM899 595h13v12h-13zM940 607h14v12h-14z"/><path fill="#0029ff" d="M789 94h13v13h-13zM789 107h13v12h-13zM789 119h13v12h-13zM802 314h14v12h-14zM802 326h14v12h-14zM816 497h14v12h-14zM844 546h13v12h-13zM912 595h14v12h-14zM1036 607h28v12h-28z"/><path fill="#0014ff" d="M844 94h13v13h-13zM844 107h13v12h-13zM844 119h13v12h-13zM844 131h13v12h-13zM857 448h14v12h-14zM857 460h14v13h-14zM871 497h14v12h-14zM954 558h13v12h-13zM1064 570h13v12h-13z"/><path fill="#0097ff" d="M583 107h13v12h-13zM583 119h13v12h-13zM569 216h14v13h-14zM569 229h14v12h-14zM569 241h14v12h-14zM280 277h14v13h-14zM280 290h14v12h-14zM569 290h14v12h-14zM294 326h14v12h-14zM294 338h14v13h-14zM583 338h13v13h-13zM596 363h14v12h-14zM610 424h14v12h-14zM610 436h14v12h-14zM211 448h14v12h-14zM637 485h14v12h-14zM156 497h14v12h-14zM665 521h14v13h-14zM802 656h14v12h-14zM1009 704h13v13h-13zM541 875h14v12h-14zM912 887h14v13h-14zM473 900h13v12h-13z"/><path fill="#0094ff" d="M596 107h14v12h-14zM596 119h14v12h-14zM266 155h14v13h-14zM266 168h14v12h-14zM266 180h14v12h-14zM583 180h13v12h-13zM266 192h14v12h-14zM583 192h13v12h-13zM266 204h14v12h-14zM266 216h14v13h-14zM583 314h13v12h-13zM280 326h14v12h-14zM280 338h14v13h-14zM596 351h14v12h-14zM225 424h14v12h-14zM651 497h14v12h-14zM679 534h13v12h-13zM692 558h14v12h-14zM706 570h14v12h-14zM1077 704h14v13h-14zM569 875h14v12h-14zM995 887h14v13h-14zM486 900h14v12h-14zM376 912h14v12h-14z"/><path fill="#008bff" d="M610 107h14v12h-14zM610 119h14v12h-14zM239 253h14v12h-14zM239 265h14v12h-14zM239 277h14v13h-14zM239 363h14v12h-14zM624 363h13v12h-13zM198 424h13v12h-13zM156 473h14v12h-14zM679 509h13v12h-13zM679 875h13v12h-13zM528 900h13v12h-13zM486 912h14v12h-14z"/><path fill="#0084ff" d="M624 107h13v12h-13zM624 119h13v12h-13zM624 131h13v12h-13zM624 143h13v12h-13zM624 155h13v13h-13zM624 168h13v12h-13zM624 180h13v12h-13zM624 192h13v12h-13zM211 229h14v12h-14zM211 241h14v12h-14zM211 253h14v12h-14zM211 265h14v12h-14zM211 277h14v13h-14zM624 302h13v12h-13zM225 351h14v12h-14zM651 436h14v12h-14zM706 546h14v12h-14zM844 656h13v12h-13zM899 680h13v12h-13zM981 692h14v12h-14zM569 900h14v12h-14zM528 912h13v12h-13z"/><path fill="#006aff" d="M692 107h14v12h-14zM692 119h14v12h-14zM706 387h14v12h-14zM761 570h14v12h-14zM775 582h14v13h-14zM926 656h14v12h-14zM967 900h14v12h-14z"/><path fill="#0060ff" d="M706 107h14v12h-14zM720 363h14v12h-14zM734 485h13v12h-13zM775 570h14v12h-14zM981 656h14v12h-14zM1077 900h14v12h-14z"/><path fill="#0038ff" d="M761 107h14v12h-14zM761 119h14v12h-14zM775 326h14v12h-14zM802 521h14v13h-14zM940 619h14v12h-14zM1077 631h14v12h-14z"/><path fill="#0020ff" d="M802 107h14v12h-14zM802 119h14v12h-14zM816 326h14v12h-14zM830 485h14v12h-14zM967 582h14v13h-14zM1077 595h14v12h-14z"/><path fill="#001cff" d="M816 107h14v12h-14zM816 119h14v12h-14zM816 131h14v12h-14zM816 143h14v12h-14zM816 155h14v13h-14zM830 326h14v12h-14zM830 338h14v13h-14zM830 351h14v12h-14zM830 363h14v12h-14zM871 534h14v12h-14zM926 570h14v12h-14zM1036 582h14v13h-14z"/><path fill="#0001ff" d="M926 107h14v12h-14zM926 119h14v12h-14zM926 131h14v12h-14zM926 143h14v12h-14zM940 460h14v13h-14zM940 473h14v12h-14zM954 509h13v12h-13zM1009 521h27v13h-27z"/><path fill="#007fff" d="M637 119h14v12h-14zM198 290h13v12h-13zM211 314h14v12h-14zM211 351h14v12h-14zM170 412h14v12h-14zM665 412h14v12h-14zM857 656h14v12h-14zM692 887h14v13h-14zM583 912h13v12h-13z"/><path fill="#0061ff" d="M706 119h14v12h-14zM706 131h14v12h-14zM734 497h13v12h-13zM1064 900h13v12h-13z"/><path fill="#0057ff" d="M720 119h14v12h-14zM720 131h14v12h-14zM747 460h14v13h-14zM1022 656h14v12h-14z"/><path fill="#004dff" d="M734 119h13v12h-13zM734 131h13v12h-13zM747 326h14v12h-14zM747 338h14v13h-14zM761 497h14v12h-14zM995 643h14v13h-14zM981 912h14v12h-14z"/><path fill="#0042ff" d="M747 119h14v12h-14zM802 558h14v12h-14zM830 582h14v13h-14zM967 631h14v12h-14z"/><path fill="#002fff" d="M775 119h14v12h-14zM775 131h14v12h-14zM789 302h13v12h-13zM789 314h13v12h-13zM802 473h14v12h-14zM857 570h14v12h-14zM926 607h14v12h-14z"/><path fill="#0011ff" d="M857 119h14v12h-14zM857 131h14v12h-14zM857 143h14v12h-14zM857 155h14v13h-14zM857 168h14v12h-14zM857 180h14v12h-14zM871 473h14v12h-14zM885 497h14v12h-14zM1009 558h13v12h-13z"/><path fill="#0005ff" d="M912 119h14v12h-14zM912 131h14v12h-14zM912 143h14v12h-14zM912 155h14v13h-14zM926 460h14v13h-14zM926 473h14v12h-14zM912 509h14v12h-14zM954 521h13v13h-13zM1022 534h28v12h-28z"/><path fill="#0000fb" d="M940 119h14v12h-14zM940 131h14v12h-14zM940 143h14v12h-14zM954 338h13v13h-13zM954 351h13v12h-13zM954 363h13v12h-13zM967 460h14v13h-14zM967 473h14v12h-14zM967 485h14v12h-14zM981 497h14v12h-14zM1050 509h27v12h-27z"/><path fill="#0093ff" d="M596 131h14v12h-14zM583 204h13v12h-13zM583 216h13v13h-13zM266 229h14v12h-14zM266 241h14v12h-14zM266 253h14v12h-14zM266 265h14v12h-14zM266 277h14v13h-14zM583 302h13v12h-13zM610 363h14v12h-14zM266 375h14v12h-14zM253 387h13v12h-13zM211 436h14v12h-14zM198 448h13v12h-13zM624 448h13v12h-13zM637 473h14v12h-14zM665 509h14v12h-14zM583 875h13v12h-13zM514 887h14v13h-14zM899 887h13v13h-13zM390 912h28v12h-28z"/><path fill="#008aff" d="M610 131h14v12h-14zM610 143h14v12h-14zM610 155h14v13h-14zM239 290h14v12h-14zM610 326h14v12h-14zM239 351h14v12h-14zM225 387h14v12h-14zM184 436h14v12h-14zM651 460h14v13h-14zM692 534h14v12h-14zM706 558h14v12h-14zM912 692h14v12h-14zM569 887h14v13h-14zM775 887h14v13h-14z"/><path fill="#006bff" d="M692 131h14v12h-14zM692 143h14v12h-14zM692 326h14v12h-14zM706 399h14v13h-14zM720 497h14v12h-14zM747 558h14v12h-14zM912 656h14v12h-14zM1022 668h14v12h-14zM954 900h13v12h-13zM816 912h14v12h-14z"/><path fill="#0043ff" d="M747 131h14v12h-14zM747 143h14v12h-14zM761 338h14v13h-14zM775 497h14v12h-14zM871 607h14v12h-14zM954 631h13v12h-13zM1077 912h14v12h-14z"/><path fill="#0039ff" d="M761 131h14v12h-14zM761 143h14v12h-14zM761 155h14v13h-14zM775 338h14v13h-14zM816 558h14v12h-14zM926 619h14v12h-14zM1064 631h13v12h-13z"/><path fill="#002aff" d="M789 131h13v12h-13zM789 143h13v12h-13zM789 155h13v13h-13zM802 338h14v13h-14zM830 534h14v12h-14zM871 570h14v12h-14zM1009 607h27v12h-27z"/><path fill="#0021ff" d="M802 131h14v12h-14zM802 143h14v12h-14zM816 338h14v13h-14zM816 351h14v12h-14zM857 534h14v12h-14zM899 570h13v12h-13zM940 582h27v13h-27zM1050 595h27v12h-27z"/><path fill="#000eff" d="M871 131h14v12h-14zM871 143h14v12h-14zM871 155h14v13h-14zM871 168h14v12h-14zM871 180h14v12h-14zM871 192h14v12h-14zM871 204h14v12h-14zM871 216h14v13h-14zM871 229h14v12h-14zM871 241h14v12h-14zM871 253h14v12h-14zM871 265h14v12h-14zM871 277h14v13h-14zM871 290h14v12h-14zM871 302h14v12h-14zM871 314h14v12h-14zM871 326h14v12h-14zM871 338h14v13h-14zM871 351h14v12h-14zM871 363h14v12h-14zM871 375h14v12h-14zM871 387h14v12h-14zM871 399h14v13h-14zM871 412h14v12h-14zM871 424h14v12h-14zM871 436h14v12h-14zM885 460h14v13h-14zM899 485h13v12h-13zM912 534h14v12h-14zM954 546h13v12h-13zM1077 558h14v12h-14z"/><path fill="#0088ff" d="M225 143h14v12h-14zM225 155h14v13h-14zM225 168h14v12h-14zM225 180h14v12h-14zM225 192h14v12h-14zM610 192h14v12h-14zM225 204h14v12h-14zM610 204h14v12h-14zM225 216h14v13h-14zM610 216h14v13h-14zM225 229h14v12h-14zM225 241h14v12h-14zM225 253h14v12h-14zM225 265h14v12h-14zM610 302h14v12h-14zM239 314h14v12h-14zM239 338h14v13h-14zM211 399h14v13h-14zM198 412h13v12h-13zM637 424h14v12h-14zM926 692h14v12h-14zM596 887h14v13h-14z"/><path fill="#0062ff" d="M706 143h14v12h-14zM720 375h14v12h-14zM761 558h14v12h-14zM844 631h13v12h-13zM871 643h14v13h-14zM1050 900h14v12h-14zM885 912h14v12h-14z"/><path fill="#0058ff" d="M720 143h14v12h-14zM720 155h14v13h-14zM747 473h14v12h-14zM775 558h14v12h-14zM844 619h13v12h-13zM871 631h14v12h-14zM899 643h13v13h-13z"/><path fill="#004eff" d="M734 143h13v12h-13zM734 326h13v12h-13zM747 351h14v12h-14zM844 607h13v12h-13zM981 643h14v13h-14z"/><path fill="#0030ff" d="M775 143h14v12h-14zM775 155h14v13h-14zM789 326h13v12h-13zM802 485h14v12h-14zM1077 619h14v12h-14z"/><path fill="#0019ff" d="M830 143h14v12h-14zM830 155h14v13h-14zM830 168h14v12h-14zM830 180h14v12h-14zM844 460h13v13h-13zM967 570h28v12h-28zM1077 582h14v13h-14z"/><path fill="#0015ff" d="M844 143h13v12h-13zM844 155h13v13h-13zM844 168h13v12h-13zM844 180h13v12h-13zM857 473h14v12h-14zM940 558h14v12h-14zM1050 570h14v12h-14z"/><path fill="#0009ff" d="M899 143h13v12h-13zM899 155h13v13h-13zM899 168h13v12h-13zM899 180h13v12h-13zM899 192h13v12h-13zM912 460h14v13h-14zM912 521h14v13h-14zM1050 546h14v12h-14z"/><path fill="#0000f6" d="M954 143h13v12h-13zM954 155h27v13h-27zM954 168h27v12h-27zM954 180h27v12h-27zM967 192h14v12h-14zM967 204h14v12h-14zM967 216h14v13h-14zM967 229h14v12h-14zM981 290h14v12h-14zM995 314h14v12h-14zM995 326h14v12h-14zM995 338h14v13h-14zM995 351h14v12h-14zM995 363h14v12h-14zM995 375h14v12h-14zM995 387h14v12h-14zM995 399h14v13h-14zM995 412h14v12h-14zM995 424h14v12h-14zM995 436h14v12h-14zM995 448h14v12h-14zM995 460h14v13h-14zM995 473h14v12h-14zM995 485h14v12h-14zM1036 497h14v12h-14z"/><path fill="#0090ff" d="M253 155h13v13h-13zM253 168h13v12h-13zM253 180h13v12h-13zM253 192h13v12h-13zM596 192h14v12h-14zM253 204h13v12h-13zM596 204h14v12h-14zM253 216h13v13h-13zM253 229h13v12h-13zM583 277h13v13h-13zM266 326h14v12h-14zM610 351h14v12h-14zM211 424h14v12h-14zM637 460h14v13h-14zM816 656h14v12h-14zM899 692h13v12h-13zM610 875h14v12h-14zM528 887h13v13h-13zM885 887h14v13h-14zM445 912h14v12h-14z"/><path fill="#006cff" d="M692 155h14v13h-14zM692 168h14v12h-14zM692 180h14v12h-14zM692 314h14v12h-14zM692 338h14v13h-14zM143 387h13v12h-13zM706 412h14v12h-14zM734 534h13v12h-13zM844 643h13v13h-13zM1009 668h13v12h-13zM802 912h14v12h-14z"/><path fill="#0063ff" d="M706 155h14v13h-14zM706 168h14v12h-14zM706 326h14v12h-14zM720 387h14v12h-14zM734 509h13v12h-13zM967 656h14v12h-14zM1036 900h14v12h-14z"/><path fill="#004fff" d="M734 155h13v13h-13zM734 168h13v12h-13zM747 363h14v12h-14zM775 534h14v12h-14zM967 643h14v13h-14zM967 912h14v12h-14z"/><path fill="#0044ff" d="M747 155h14v13h-14zM747 168h14v12h-14zM761 351h14v12h-14zM940 631h14v12h-14zM1064 912h13v12h-13z"/><path fill="#0022ff" d="M802 155h14v13h-14zM802 168h14v12h-14zM802 180h14v12h-14zM816 363h14v12h-14zM830 497h14v12h-14zM844 521h13v13h-13zM926 582h14v13h-14zM1036 595h14v12h-14z"/><path fill="#0002ff" d="M926 155h14v13h-14zM926 168h14v12h-14zM926 180h14v12h-14zM926 192h14v12h-14zM926 204h14v12h-14zM940 485h14v12h-14zM940 497h14v12h-14zM926 509h28v12h-28zM995 521h14v13h-14z"/><path fill="#0000fc" d="M940 155h14v13h-14zM940 168h14v12h-14zM940 180h14v12h-14zM954 375h13v12h-13zM954 387h13v12h-13zM954 399h13v13h-13zM954 412h13v12h-13zM954 424h13v12h-13zM954 436h13v12h-13zM954 448h13v12h-13zM1022 509h28v12h-28z"/><path fill="#0073ff" d="M679 168h13v12h-13zM679 180h13v12h-13zM679 192h13v12h-13zM679 204h13v12h-13zM679 216h13v13h-13zM679 290h13v12h-13zM170 302h14v12h-14zM170 351h14v12h-14zM679 351h13v12h-13zM156 387h14v12h-14zM143 412h13v12h-13zM692 424h14v12h-14zM706 485h14v12h-14zM747 570h14v12h-14zM775 595h14v12h-14zM885 656h14v12h-14zM940 668h14v12h-14zM1036 680h14v12h-14zM871 900h28v12h-28zM679 912h13v12h-13z"/><path fill="#0059ff" d="M720 168h14v12h-14zM720 326h14v12h-14zM734 375h13v12h-13zM747 485h14v12h-14zM747 497h14v12h-14zM747 509h14v12h-14zM912 912h14v12h-14z"/><path fill="#003aff" d="M761 168h14v12h-14zM761 180h14v12h-14zM775 351h14v12h-14zM789 497h13v12h-13zM830 570h14v12h-14zM871 595h14v12h-14zM1050 631h14v12h-14z"/><path fill="#0031ff" d="M775 168h14v12h-14zM775 180h14v12h-14zM789 338h13v13h-13zM789 351h13v12h-13zM816 534h14v12h-14zM912 607h14v12h-14zM1050 619h27v12h-27z"/><path fill="#002bff" d="M789 168h13v12h-13zM789 180h13v12h-13zM789 192h13v12h-13zM802 351h14v12h-14zM816 509h14v12h-14zM995 607h14v12h-14z"/><path fill="#001dff" d="M816 168h14v12h-14zM816 180h14v12h-14zM816 192h14v12h-14zM816 204h14v12h-14zM816 216h14v13h-14zM830 375h14v12h-14zM830 387h14v12h-14zM830 399h14v13h-14zM830 412h14v12h-14zM830 424h14v12h-14zM830 436h14v12h-14zM830 448h14v12h-14zM844 497h13v12h-13zM857 521h14v13h-14zM1009 582h27v13h-27z"/><path fill="#000cff" d="M885 168h14v12h-14zM885 180h14v12h-14zM885 192h14v12h-14zM885 204h14v12h-14zM885 216h14v13h-14zM885 229h14v12h-14zM885 241h14v12h-14zM885 253h14v12h-14zM885 265h14v12h-14zM885 277h14v13h-14zM885 290h14v12h-14zM885 302h14v12h-14zM885 314h14v12h-14zM885 326h14v12h-14zM885 338h14v13h-14zM885 351h14v12h-14zM885 363h14v12h-14zM885 375h14v12h-14zM885 387h14v12h-14zM885 399h14v13h-14zM885 412h14v12h-14zM885 424h14v12h-14zM885 436h14v12h-14zM899 460h13v13h-13zM899 497h13v12h-13zM926 534h14v12h-14zM981 546h14v12h-14z"/><path fill="#0006ff" d="M912 168h14v12h-14zM912 180h14v12h-14zM912 192h14v12h-14zM912 204h14v12h-14zM926 485h14v12h-14zM940 521h14v13h-14zM995 534h27v12h-27z"/><path fill="#0064ff" d="M706 180h14v12h-14zM706 314h14v12h-14zM706 338h14v13h-14zM720 399h14v13h-14zM747 534h14v12h-14zM802 607h14v12h-14zM816 619h14v12h-14zM1022 900h14v12h-14zM871 912h14v12h-14z"/><path fill="#005aff" d="M720 180h14v12h-14zM720 192h14v12h-14zM720 314h14v12h-14zM734 387h13v12h-13zM761 534h14v12h-14zM1009 656h13v12h-13z"/><path fill="#0050ff" d="M734 180h13v12h-13zM734 192h13v12h-13zM734 314h13v12h-13zM747 375h14v12h-14zM761 509h14v12h-14zM954 643h13v13h-13z"/><path fill="#0045ff" d="M747 180h14v12h-14zM747 192h14v12h-14zM761 363h14v12h-14zM789 534h13v12h-13zM844 595h13v12h-13zM926 631h14v12h-14zM1077 643h14v13h-14zM1050 912h14v12h-14z"/><path fill="#006dff" d="M692 192h14v12h-14zM692 204h14v12h-14zM692 302h14v12h-14zM156 326h14v12h-14zM692 351h14v12h-14zM706 424h14v12h-14zM995 668h14v12h-14zM940 900h14v12h-14z"/><path fill="#0065ff" d="M706 192h14v12h-14zM706 204h14v12h-14zM720 412h14v12h-14zM747 546h14v12h-14z"/><path fill="#003bff" d="M761 192h14v12h-14zM761 204h14v12h-14zM775 363h14v12h-14zM802 534h14v12h-14zM912 619h14v12h-14z"/><path fill="#0032ff" d="M775 192h14v12h-14zM775 204h14v12h-14zM789 363h13v12h-13zM802 497h14v12h-14zM830 558h14v12h-14zM871 582h14v13h-14zM1036 619h14v12h-14z"/><path fill="#0023ff" d="M802 192h14v12h-14zM802 204h14v12h-14zM816 375h14v12h-14zM816 387h14v12h-14zM816 399h14v13h-14zM816 412h14v12h-14zM816 424h14v12h-14zM816 436h14v12h-14zM871 558h14v12h-14zM1022 595h14v12h-14z"/><path fill="#001aff" d="M830 192h14v12h-14zM830 204h14v12h-14zM830 216h14v13h-14zM830 229h14v12h-14zM830 241h14v12h-14zM844 473h13v12h-13zM844 485h13v12h-13zM857 509h14v12h-14zM899 558h13v12h-13zM954 570h13v12h-13zM1064 582h13v13h-13z"/><path fill="#0016ff" d="M844 192h13v12h-13zM844 204h13v12h-13zM844 216h13v13h-13zM844 229h13v12h-13zM857 485h14v12h-14zM899 546h13v12h-13zM926 558h14v12h-14zM1022 570h28v12h-28z"/><path fill="#0012ff" d="M857 192h14v12h-14zM857 204h14v12h-14zM857 216h14v13h-14zM857 229h14v12h-14zM857 241h14v12h-14zM857 253h14v12h-14zM871 485h14v12h-14zM885 509h14v12h-14zM899 534h13v12h-13zM912 546h14v12h-14zM981 558h28v12h-28z"/><path fill="#0000fd" d="M940 192h14v12h-14zM940 204h14v12h-14zM940 216h14v13h-14zM954 460h13v13h-13zM954 473h13v12h-13zM954 485h13v12h-13zM967 497h14v12h-14zM995 509h27v12h-27zM1077 521h14v13h-14z"/><path fill="#0000f7" d="M954 192h13v12h-13zM954 204h13v12h-13zM954 216h13v13h-13zM954 229h13v12h-13zM967 241h14v12h-14zM967 253h14v12h-14zM967 265h14v12h-14zM967 277h14v13h-14zM981 302h14v12h-14zM1022 497h14v12h-14z"/><path fill="#0083ff" d="M624 204h13v12h-13zM624 216h13v13h-13zM624 229h13v12h-13zM624 241h13v12h-13zM624 253h13v12h-13zM624 265h13v12h-13zM624 277h13v13h-13zM211 290h14v12h-14zM624 290h13v12h-13zM225 314h14v12h-14zM225 338h14v13h-14zM637 363h14v12h-14zM184 412h14v12h-14zM651 424h14v12h-14zM156 448h14v12h-14zM665 448h14v12h-14zM143 473h13v12h-13zM789 631h13v12h-13zM995 692h14v12h-14zM720 887h14v13h-14zM583 900h27v12h-27z"/><path fill="#005bff" d="M720 204h14v12h-14zM720 216h14v13h-14zM720 338h14v13h-14zM734 399h13v13h-13zM802 595h14v12h-14zM816 607h14v12h-14z"/><path fill="#0051ff" d="M734 204h13v12h-13zM734 302h13v12h-13zM734 338h13v13h-13zM747 387h14v12h-14zM816 595h14v12h-14zM940 643h14v13h-14zM954 912h13v12h-13z"/><path fill="#0046ff" d="M747 204h14v12h-14zM747 216h14v13h-14zM761 375h14v12h-14zM761 387h14v12h-14zM761 399h14v13h-14zM761 412h14v12h-14zM761 424h14v12h-14zM761 436h14v12h-14zM885 619h14v12h-14zM1064 643h13v13h-13zM1036 912h14v12h-14z"/><path fill="#002cff" d="M789 204h13v12h-13zM789 216h13v13h-13zM789 229h13v12h-13zM802 363h14v12h-14zM981 607h14v12h-14z"/><path fill="#000aff" d="M899 204h13v12h-13zM899 216h13v13h-13zM899 229h13v12h-13zM899 241h13v12h-13zM899 253h13v12h-13zM899 265h13v12h-13zM912 473h14v12h-14zM954 534h13v12h-13zM1022 546h28v12h-28z"/><path fill="#008fff" d="M596 216h14v13h-14zM253 241h13v12h-13zM253 253h13v12h-13zM253 265h13v12h-13zM253 277h13v13h-13zM596 314h14v12h-14zM596 326h14v12h-14zM253 363h13v12h-13zM253 375h13v12h-13zM239 387h14v12h-14zM624 424h13v12h-13zM198 436h13v12h-13zM624 436h13v12h-13zM651 485h14v12h-14zM679 521h13v13h-13zM775 631h14v12h-14zM857 887h28v13h-28zM1036 887h14v13h-14zM459 912h14v12h-14z"/><path fill="#006eff" d="M692 216h14v13h-14zM692 229h14v12h-14zM692 241h14v12h-14zM692 290h14v12h-14zM156 302h14v12h-14zM156 314h14v12h-14zM156 338h14v13h-14zM156 351h14v12h-14zM692 363h14v12h-14zM706 436h14v12h-14zM720 509h14v12h-14zM734 546h13v12h-13zM802 619h14v12h-14zM816 631h14v12h-14zM899 656h13v12h-13zM926 900h14v12h-14zM789 912h13v12h-13z"/><path fill="#0066ff" d="M706 216h14v13h-14zM706 302h14v12h-14zM706 351h14v12h-14zM720 424h14v12h-14zM789 595h13v12h-13zM954 656h13v12h-13zM1009 900h13v12h-13zM857 912h14v12h-14z"/><path fill="#0052ff" d="M734 216h13v13h-13zM734 229h13v12h-13zM747 399h14v13h-14zM857 619h14v12h-14zM885 631h14v12h-14zM926 643h14v13h-14z"/><path fill="#003cff" d="M761 216h14v13h-14zM761 229h14v12h-14zM775 375h14v12h-14zM775 387h14v12h-14zM775 399h14v13h-14zM775 412h14v12h-14zM775 424h14v12h-14zM775 436h14v12h-14zM775 448h14v12h-14zM1036 631h14v12h-14z"/><path fill="#0033ff" d="M775 216h14v13h-14zM789 375h13v12h-13zM789 387h13v12h-13zM789 399h13v13h-13zM789 412h13v12h-13zM789 424h13v12h-13zM789 436h13v12h-13zM1022 619h14v12h-14z"/><path fill="#0024ff" d="M802 216h14v13h-14zM802 229h14v12h-14zM816 448h14v12h-14zM830 509h14v12h-14zM857 546h14v12h-14zM912 582h14v13h-14zM1009 595h13v12h-13z"/><path fill="#0007ff" d="M912 216h14v13h-14zM912 229h14v12h-14zM912 241h14v12h-14zM912 253h14v12h-14zM912 265h14v12h-14zM912 497h14v12h-14zM926 521h14v13h-14zM981 534h14v12h-14z"/><path fill="#0003ff" d="M926 216h14v13h-14zM926 229h14v12h-14zM926 241h14v12h-14zM926 253h14v12h-14zM981 521h14v13h-14zM1077 534h14v12h-14z"/><path fill="#008eff" d="M596 229h14v12h-14zM596 241h14v12h-14zM253 290h13v12h-13zM253 302h13v12h-13zM596 302h14v12h-14zM253 351h13v12h-13zM225 399h14v13h-14zM624 399h13v13h-13zM624 412h13v12h-13zM184 448h14v12h-14zM156 485h14v12h-14zM143 497h13v12h-13zM665 497h14v12h-14zM692 546h14v12h-14zM624 875h13v12h-13zM541 887h14v13h-14zM830 887h27v13h-27zM1050 887h14v13h-14zM514 900h14v12h-14z"/><path fill="#0087ff" d="M610 229h14v12h-14zM610 241h14v12h-14zM610 253h14v12h-14zM225 277h14v13h-14zM610 290h14v12h-14zM239 326h14v12h-14zM624 338h13v13h-13zM225 375h14v12h-14zM637 399h14v13h-14zM637 412h14v12h-14zM184 424h14v12h-14zM651 448h14v12h-14zM156 460h14v13h-14zM665 473h14v12h-14zM679 497h13v12h-13zM720 570h14v12h-14zM747 595h14v12h-14zM665 875h14v12h-14zM610 887h14v13h-14zM747 887h14v13h-14zM541 900h14v12h-14zM514 912h14v12h-14z"/><path fill="#0074ff" d="M679 229h13v12h-13zM679 241h13v12h-13zM679 253h13v12h-13zM679 265h13v12h-13zM679 277h13v13h-13zM170 290h14v12h-14zM170 363h14v12h-14zM679 363h13v12h-13zM692 436h14v12h-14zM761 582h14v13h-14zM926 668h14v12h-14zM1022 680h14v12h-14zM857 900h14v12h-14zM665 912h14v12h-14z"/><path fill="#0067ff" d="M706 229h14v12h-14zM706 241h14v12h-14zM720 436h14v12h-14zM720 448h14v12h-14zM720 460h14v13h-14zM734 521h13v13h-13zM830 631h14v12h-14zM857 643h14v13h-14zM995 900h14v12h-14z"/><path fill="#005cff" d="M720 229h14v12h-14zM720 241h14v12h-14zM720 302h14v12h-14zM734 412h13v12h-13z"/><path fill="#0047ff" d="M747 229h14v12h-14zM761 448h14v12h-14zM775 509h14v12h-14zM912 631h14v12h-14zM1050 643h14v13h-14z"/><path fill="#0034ff" d="M775 229h14v12h-14zM775 241h14v12h-14zM789 448h13v12h-13zM885 595h14v12h-14zM1009 619h13v12h-13z"/><path fill="#0000fe" d="M940 229h14v12h-14zM940 241h14v12h-14zM940 253h14v12h-14zM981 509h14v12h-14zM1050 521h27v13h-27z"/><path fill="#0053ff" d="M734 241h13v12h-13zM734 253h13v12h-13zM734 290h13v12h-13zM747 412h14v12h-14zM802 582h14v13h-14zM830 607h14v12h-14zM1064 656h27v12h-27zM940 912h14v12h-14z"/><path fill="#0048ff" d="M747 241h14v12h-14zM747 253h14v12h-14zM761 460h14v13h-14zM1022 912h14v12h-14z"/><path fill="#003dff" d="M761 241h14v12h-14zM761 253h14v12h-14zM775 460h14v13h-14zM844 582h13v13h-13zM885 607h14v12h-14zM1022 631h14v12h-14z"/><path fill="#0025ff" d="M802 241h14v12h-14zM802 253h14v12h-14zM816 460h14v13h-14zM816 473h14v12h-14zM844 534h13v12h-13zM981 595h28v12h-28z"/><path fill="#0000f8" d="M954 241h13v12h-13zM954 253h13v12h-13zM954 265h13v12h-13zM967 290h14v12h-14zM967 302h14v12h-14zM981 314h14v12h-14z"/><path fill="#006fff" d="M692 253h14v12h-14zM692 265h14v12h-14zM156 290h14v12h-14zM156 363h14v12h-14zM706 448h14v12h-14zM981 668h14v12h-14zM761 912h28v12h-28z"/><path fill="#0068ff" d="M706 253h14v12h-14zM706 290h14v12h-14zM706 363h14v12h-14zM720 473h14v12h-14zM720 485h14v12h-14zM1064 668h27v12h-27zM981 900h14v12h-14zM844 912h13v12h-13z"/><path fill="#005dff" d="M720 253h14v12h-14zM720 265h14v12h-14zM720 290h14v12h-14zM734 424h13v12h-13zM761 546h14v12h-14zM830 619h14v12h-14zM857 631h14v12h-14zM885 643h14v13h-14zM995 656h14v12h-14z"/><path fill="#0035ff" d="M775 253h14v12h-14zM775 265h14v12h-14zM789 460h13v13h-13zM789 473h13v12h-13zM802 509h14v12h-14zM816 546h14v12h-14zM844 570h13v12h-13zM981 619h28v12h-28z"/><path fill="#0086ff" d="M610 265h14v12h-14zM610 277h14v13h-14zM225 290h14v12h-14zM624 326h13v12h-13zM225 363h14v12h-14zM637 387h14v12h-14zM143 485h13v12h-13zM692 521h14v13h-14zM734 582h13v13h-13zM775 619h14v12h-14zM940 692h14v12h-14z"/><path fill="#0049ff" d="M747 265h14v12h-14zM747 277h14v13h-14zM761 473h14v12h-14zM761 485h14v12h-14zM789 546h13v12h-13zM816 582h14v13h-14zM857 607h14v12h-14zM1036 643h14v13h-14z"/><path fill="#003eff" d="M761 265h14v12h-14zM761 277h14v13h-14zM775 473h14v12h-14zM789 509h13v12h-13zM802 546h14v12h-14zM1009 631h13v12h-13z"/><path fill="#0026ff" d="M802 265h14v12h-14zM802 277h14v13h-14zM816 485h14v12h-14zM885 570h14v12h-14zM954 595h27v12h-27z"/><path fill="#0079ff" d="M184 290h14v12h-14zM665 351h14v12h-14zM184 363h14v12h-14zM156 412h14v12h-14zM679 412h13v12h-13zM143 436h13v12h-13zM720 546h14v12h-14zM789 619h13v12h-13zM665 900h14v12h-14zM637 912h14v12h-14z"/><path fill="#0077ff" d="M665 290h14v12h-14zM184 314h14v12h-14zM184 338h14v13h-14zM665 338h14v13h-14zM679 387h13v12h-13zM692 473h14v12h-14zM706 509h14v12h-14zM995 680h14v12h-14zM802 900h14v12h-14z"/><path fill="#003fff" d="M761 290h14v12h-14zM775 485h14v12h-14zM857 595h14v12h-14z"/><path fill="#0027ff" d="M802 290h14v12h-14zM830 521h14v13h-14zM857 558h14v12h-14zM926 595h28v12h-28z"/><path fill="#005feb" d="M129 302h14v12h-14zM129 314h14v12h-14zM129 326h14v12h-14zM129 338h14v13h-14zM129 351h14v12h-14z"/><path fill="#007dff" d="M198 302h13v12h-13zM651 351h14v12h-14zM198 363h13v12h-13zM184 387h14v12h-14zM665 387h14v12h-14zM747 582h14v13h-14zM885 668h14v12h-14zM610 912h14v12h-14z"/><path fill="#0076ff" d="M665 302h14v12h-14zM665 314h14v12h-14zM184 326h14v12h-14zM679 375h13v12h-13zM156 399h14v13h-14zM143 424h13v12h-13zM692 460h14v13h-14zM816 900h14v12h-14zM651 912h14v12h-14z"/><path fill="#007aff" d="M198 326h13v12h-13zM651 326h14v12h-14zM184 375h14v12h-14zM679 424h13v12h-13zM871 656h14v12h-14zM967 680h14v12h-14z"/><path fill="#007eff" d="M211 326h14v12h-14zM211 338h14v13h-14zM651 363h14v12h-14zM198 375h13v12h-13zM665 399h14v13h-14zM679 460h13v13h-13zM761 595h14v12h-14zM926 680h14v12h-14zM665 887h27v13h-27zM637 900h14v12h-14zM596 912h14v12h-14z"/><path fill="#0082ff" d="M225 326h14v12h-14zM637 351h14v12h-14zM651 412h14v12h-14zM170 424h14v12h-14zM802 643h14v13h-14zM1009 692h27v12h-27zM637 887h14v13h-14zM610 900h14v12h-14zM541 912h14v12h-14z"/><path fill="#0061eb" d="M129 387h14v12h-14z"/><path fill="#00a5ff" d="M376 387h28v12h-28zM404 399h14v13h-14zM528 399h13v13h-13zM418 412h13v12h-13zM514 424h14v12h-14zM294 436h14v12h-14zM431 436h14v12h-14zM266 448h14v12h-14zM802 668h14v12h-14zM266 887h14v13h-14zM294 887h41v13h-41zM418 887h13v13h-13z"/><path fill="#0000eb" d="M1064 387h27v12h-27zM1064 399h27v13h-27zM1064 412h27v12h-27z"/><path fill="#0063eb" d="M129 399h14v13h-14z"/><path fill="#00a6ff" d="M349 399h14v13h-14zM390 399h14v13h-14zM335 412h14v12h-14zM404 412h14v12h-14zM528 412h13v12h-13zM321 424h14v12h-14zM418 424h13v12h-13zM514 436h14v12h-14zM459 448h27v12h-27zM555 448h14v12h-14zM253 460h13v13h-13zM239 473h14v12h-14zM225 485h14v12h-14zM596 485h14v12h-14zM610 509h14v12h-14zM761 643h14v13h-14zM473 875h13v12h-13zM734 875h13v12h-13zM253 887h13v13h-13zM335 887h41v13h-41z"/><path fill="#00a7ff" d="M363 399h27v13h-27zM528 424h13v12h-13zM308 436h13v12h-13zM418 436h13v12h-13zM528 436h13v12h-13zM280 448h14v12h-14zM486 448h14v12h-14zM569 460h14v13h-14zM583 473h13v12h-13zM211 497h14v12h-14zM184 509h14v12h-14zM624 521h13v13h-13zM830 680h14v12h-14zM541 863h14v12h-14zM569 863h14v12h-14zM225 887h28v13h-28zM376 887h42v13h-42z"/><path fill="#0067eb" d="M129 412h14v12h-14z"/><path fill="#00a8ff" d="M349 412h14v12h-14zM376 412h28v12h-28zM335 424h14v12h-14zM404 424h14v12h-14zM321 436h14v12h-14zM445 448h14v12h-14zM266 460h14v13h-14zM596 497h14v12h-14zM747 631h14v12h-14zM211 887h14v13h-14z"/><path fill="#00a9ff" d="M363 412h13v12h-13zM390 424h14v12h-14zM404 436h14v12h-14zM294 448h14v12h-14zM431 448h14v12h-14zM500 448h14v12h-14zM541 448h14v12h-14zM253 473h13v12h-13zM239 485h14v12h-14zM596 509h14v12h-14zM637 534h14v12h-14zM651 546h14v12h-14zM775 656h14v12h-14zM583 863h13v12h-13zM459 875h14v12h-14zM143 887h68v13h-68z"/><path fill="#0000ee" d="M1050 412h14v12h-14zM1050 424h14v12h-14zM1050 436h14v12h-14zM1050 448h14v12h-14z"/><path fill="#006aeb" d="M129 424h14v12h-14z"/><path fill="#00aaff" d="M349 424h14v12h-14zM376 424h14v12h-14zM390 436h14v12h-14zM514 448h14v12h-14zM555 460h14v13h-14zM225 497h14v12h-14zM198 509h13v12h-13zM170 521h14v13h-14zM528 863h13v12h-13z"/><path fill="#00abff" d="M363 424h13v12h-13zM335 436h14v12h-14zM308 448h13v12h-13zM418 448h13v12h-13zM280 460h14v13h-14zM459 460h27v13h-27zM266 473h14v12h-14zM569 473h14v12h-14zM583 485h13v12h-13zM583 497h13v12h-13zM610 521h14v13h-14zM706 595h14v12h-14zM720 607h14v12h-14zM734 619h13v12h-13zM871 692h14v12h-14zM445 875h14v12h-14z"/><path fill="#0000ec" d="M1064 424h27v12h-27zM1064 436h27v12h-27zM1064 448h27v12h-27z"/><path fill="#006deb" d="M129 436h14v12h-14z"/><path fill="#00adff" d="M349 436h27v12h-27zM321 448h14v12h-14zM404 448h14v12h-14zM294 460h14v13h-14zM445 460h14v13h-14zM239 497h14v12h-14z"/><path fill="#00acff" d="M376 436h14v12h-14zM528 448h13v12h-13zM486 460h14v13h-14zM253 485h13v12h-13zM211 509h14v12h-14zM583 509h13v12h-13zM665 558h14v12h-14zM514 863h14v12h-14zM596 863h14v12h-14zM747 875h14v12h-14z"/><path fill="#006feb" d="M129 448h14v12h-14z"/><path fill="#00afff" d="M335 448h14v12h-14zM308 460h13v13h-13zM418 460h13v13h-13zM514 460h14v13h-14zM555 473h14v12h-14zM266 485h14v12h-14zM569 485h14v12h-14zM569 497h14v12h-14zM569 509h14v12h-14zM184 521h14v13h-14zM156 534h14v12h-14zM624 534h13v12h-13zM143 546h13v12h-13zM1036 717h28v12h-28zM500 863h14v12h-14zM280 875h14v12h-14z"/><path fill="#00b1ff" d="M349 448h27v12h-27zM321 460h14v13h-14zM404 460h14v13h-14zM459 473h27v12h-27zM280 485h14v12h-14zM239 509h14v12h-14zM583 521h13v13h-13zM679 570h13v12h-13zM692 582h14v13h-14zM995 717h27v12h-27zM253 875h13v12h-13zM321 875h28v12h-28zM418 875h13v12h-13z"/><path fill="#00b0ff" d="M376 448h14v12h-14zM528 460h13v13h-13zM294 473h14v12h-14zM253 497h13v12h-13zM637 546h14v12h-14zM1022 717h14v12h-14zM266 875h14v12h-14zM294 875h27v12h-27z"/><path fill="#00aeff" d="M390 448h14v12h-14zM431 460h14v13h-14zM500 460h14v13h-14zM541 460h14v13h-14zM280 473h14v12h-14zM225 509h14v12h-14zM596 521h14v13h-14zM789 668h13v12h-13zM816 680h14v12h-14zM1064 717h27v12h-27zM610 863h14v12h-14zM431 875h14v12h-14z"/><path fill="#000fff" d="M871 448h14v12h-14zM885 473h14v12h-14zM940 546h14v12h-14zM1050 558h27v12h-27z"/><path fill="#0072eb" d="M129 460h14v13h-14z"/><path fill="#00b3ff" d="M335 460h14v13h-14zM376 460h14v13h-14zM308 473h13v12h-13zM431 473h14v12h-14zM500 473h14v12h-14zM555 485h14v12h-14zM555 497h14v12h-14zM253 509h13v12h-13zM747 643h14v13h-14zM885 704h14v13h-14zM954 717h27v12h-27zM376 875h14v12h-14z"/><path fill="#00b5ff" d="M349 460h27v13h-27zM321 473h14v12h-14zM404 473h14v12h-14zM280 497h14v12h-14zM486 497h14v12h-14zM266 509h14v12h-14zM486 509h14v12h-14zM211 521h14v13h-14zM734 631h13v12h-13zM473 863h13v12h-13zM211 875h14v12h-14z"/><path fill="#00b2ff" d="M390 460h14v13h-14zM445 473h14v12h-14zM486 473h14v12h-14zM541 473h14v12h-14zM266 497h14v12h-14zM555 509h14v12h-14zM198 521h13v13h-13zM981 717h14v12h-14zM486 863h14v12h-14zM624 863h13v12h-13zM239 875h14v12h-14zM349 875h27v12h-27zM761 875h14v12h-14z"/><path fill="#0000ef" d="M1050 460h14v13h-14zM1050 473h14v12h-14zM1050 485h14v12h-14z"/><path fill="#0075eb" d="M129 473h14v12h-14z"/><path fill="#00b7ff" d="M335 473h14v12h-14zM376 473h14v12h-14zM431 485h28v12h-28zM486 485h28v12h-28zM541 485h14v12h-14zM294 497h14v12h-14zM459 497h14v12h-14zM555 521h14v13h-14zM596 534h14v12h-14zM624 546h13v12h-13zM926 717h14v12h-14zM459 863h14v12h-14z"/><path fill="#00b9ff" d="M349 473h27v12h-27zM321 485h14v12h-14zM404 485h14v12h-14zM528 485h13v12h-13zM308 497h13v12h-13zM445 497h14v12h-14zM459 509h14v12h-14zM541 521h14v13h-14zM143 558h13v12h-13zM720 619h14v12h-14zM844 692h13v12h-13zM912 717h14v12h-14zM637 863h14v12h-14zM775 875h14v12h-14z"/><path fill="#00b6ff" d="M390 473h14v12h-14zM308 485h13v12h-13zM459 485h27v12h-27zM473 497h13v12h-13zM500 497h55v12h-55zM473 509h13v12h-13zM857 692h14v12h-14zM651 863h14v12h-14z"/><path fill="#00b4ff" d="M418 473h13v12h-13zM514 473h27v12h-27zM294 485h14v12h-14zM500 509h55v12h-55zM569 521h14v13h-14zM610 534h14v12h-14zM651 558h14v12h-14zM761 656h14v12h-14zM940 717h14v12h-14zM225 875h14v12h-14zM390 875h28v12h-28z"/><path fill="#0000f1" d="M1036 473h14v12h-14zM1036 485h14v12h-14z"/><path fill="#0078eb" d="M129 485h14v12h-14z"/><path fill="#00bbff" d="M335 485h14v12h-14zM376 485h14v12h-14zM321 497h14v12h-14zM418 497h27v12h-27zM445 509h14v12h-14zM500 521h28v13h-28zM665 570h14v12h-14zM308 863h13v12h-13zM143 875h13v12h-13z"/><path fill="#00beff" d="M349 485h14v12h-14zM376 497h14v12h-14zM321 509h14v12h-14zM431 509h14v12h-14zM459 521h14v13h-14zM569 534h14v12h-14zM610 546h14v12h-14zM747 656h14v12h-14zM349 863h14v12h-14z"/><path fill="#00bcff" d="M363 485h13v12h-13zM404 497h14v12h-14zM308 509h13v12h-13zM253 521h13v13h-13zM486 521h14v13h-14zM692 595h14v12h-14zM830 692h14v12h-14zM321 863h14v12h-14zM170 875h14v12h-14z"/><path fill="#00baff" d="M390 485h14v12h-14zM294 509h14v12h-14zM239 521h14v13h-14zM528 521h13v13h-13zM170 534h14v12h-14zM583 534h13v12h-13zM637 558h14v12h-14zM280 863h28v12h-28zM445 863h14v12h-14zM184 875h14v12h-14z"/><path fill="#00b8ff" d="M418 485h13v12h-13zM514 485h14v12h-14zM280 509h14v12h-14zM225 521h14v13h-14zM156 546h14v12h-14zM706 607h14v12h-14zM775 668h14v12h-14zM802 680h14v12h-14zM665 863h14v12h-14zM198 875h13v12h-13z"/><path fill="#007eeb" d="M129 497h14v12h-14z"/><path fill="#00bdff" d="M335 497h14v12h-14zM390 497h14v12h-14zM473 521h13v13h-13zM679 582h13v13h-13zM266 863h14v12h-14zM335 863h14v12h-14zM431 863h14v12h-14zM156 875h14v12h-14z"/><path fill="#00c0ff" d="M349 497h14v12h-14zM335 509h14v12h-14zM390 509h14v12h-14zM445 521h14v13h-14zM184 534h14v12h-14zM170 546h14v12h-14zM596 546h14v12h-14zM899 717h13v12h-13zM253 863h13v12h-13zM376 863h14v12h-14zM418 863h13v12h-13z"/><path fill="#00bfff" d="M363 497h13v12h-13zM404 509h27v12h-27zM266 521h14v13h-14zM734 643h13v13h-13zM363 863h13v12h-13zM679 863h13v12h-13zM789 875h13v12h-13z"/><path fill="#0085eb" d="M129 509h14v12h-14z"/><path fill="#00c2ff" d="M349 509h27v12h-27zM431 521h14v13h-14zM198 534h13v12h-13zM583 546h13v12h-13zM651 570h14v12h-14zM789 680h13v12h-13zM816 692h14v12h-14zM239 863h14v12h-14zM404 863h14v12h-14z"/><path fill="#00c1ff" d="M376 509h14v12h-14zM280 521h14v13h-14zM555 534h14v12h-14zM624 558h13v12h-13zM390 863h14v12h-14z"/><path fill="#008aeb" d="M129 521h14v13h-14z"/><path fill="#00c3ff" d="M294 521h14v13h-14zM541 534h14v12h-14zM156 558h14v12h-14zM541 851h14v12h-14z"/><path fill="#00c5ff" d="M308 521h13v13h-13zM500 534h14v12h-14zM692 607h14v12h-14zM871 704h14v13h-14zM555 851h14v12h-14z"/><path fill="#00c7ff" d="M321 521h14v13h-14zM459 534h14v12h-14zM610 558h14v12h-14zM143 570h13v12h-13zM706 619h14v12h-14zM569 851h14v12h-14zM802 875h14v12h-14z"/><path fill="#00c9ff" d="M335 521h14v13h-14zM445 534h14v12h-14zM514 546h14v12h-14zM596 558h14v12h-14zM637 570h14v12h-14zM679 595h13v12h-13zM211 863h14v12h-14z"/><path fill="#00caff" d="M349 521h14v13h-14zM376 521h14v13h-14zM253 534h13v12h-13zM500 546h14v12h-14zM514 851h14v12h-14z"/><path fill="#00ccff" d="M363 521h13v13h-13zM266 534h14v12h-14zM459 546h14v12h-14zM734 656h13v12h-13zM775 680h14v12h-14zM802 692h14v12h-14zM198 863h13v12h-13zM692 863h14v12h-14z"/><path fill="#00c8ff" d="M390 521h14v13h-14zM239 534h14v12h-14zM528 546h27v12h-27z"/><path fill="#00c6ff" d="M404 521h14v13h-14zM225 534h14v12h-14zM473 534h27v12h-27zM184 546h14v12h-14zM555 546h14v12h-14zM665 582h14v13h-14zM528 851h13v12h-13zM225 863h14v12h-14z"/><path fill="#00c4ff" d="M418 521h13v13h-13zM211 534h14v12h-14zM514 534h27v12h-27zM569 546h14v12h-14zM720 631h14v12h-14zM761 668h14v12h-14z"/><path fill="#0092eb" d="M129 534h14v12h-14zM129 912h14v12h-14z"/><path fill="#00ceff" d="M280 534h14v12h-14zM445 546h14v12h-14zM569 558h14v12h-14zM651 582h14v13h-14zM720 643h14v13h-14zM280 851h14v12h-14zM308 851h13v12h-13z"/><path fill="#00d0ff" d="M294 534h14v12h-14zM431 546h14v12h-14zM555 558h14v12h-14zM679 607h13v12h-13zM885 717h14v12h-14zM1050 729h27v12h-27zM321 851h14v12h-14zM500 851h14v12h-14z"/><path fill="#00d1ff" d="M308 534h13v12h-13zM390 534h14v12h-14zM541 558h14v12h-14zM747 668h14v12h-14zM1036 729h14v12h-14zM335 851h14v12h-14zM583 851h13v12h-13z"/><path fill="#00d2ff" d="M321 534h14v12h-14zM418 546h13v12h-13zM528 558h13v12h-13zM156 570h14v12h-14zM1022 729h14v12h-14zM143 863h13v12h-13zM170 863h14v12h-14z"/><path fill="#00d3ff" d="M335 534h14v12h-14zM225 546h14v12h-14zM500 558h28v12h-28zM665 595h14v12h-14zM857 704h14v13h-14zM266 851h14v12h-14zM349 851h14v12h-14z"/><path fill="#00d4ff" d="M349 534h14v12h-14zM376 534h14v12h-14zM404 546h14v12h-14zM184 558h14v12h-14zM486 558h14v12h-14zM692 619h14v12h-14zM706 631h14v12h-14zM1009 729h13v12h-13zM363 851h13v12h-13z"/><path fill="#00d6ff" d="M363 534h13v12h-13zM239 546h14v12h-14zM390 546h14v12h-14zM459 558h14v12h-14zM610 570h14v12h-14zM143 582h13v13h-13zM637 582h14v13h-14zM981 729h14v12h-14zM376 851h28v12h-28zM156 863h14v12h-14z"/><path fill="#00cfff" d="M404 534h14v12h-14zM211 546h14v12h-14zM624 570h13v12h-13zM1077 729h14v12h-14zM184 863h14v12h-14zM816 875h14v12h-14z"/><path fill="#00cdff" d="M418 534h13v12h-13zM170 558h14v12h-14zM294 851h14v12h-14z"/><path fill="#00cbff" d="M431 534h14v12h-14zM198 546h13v12h-13zM473 546h27v12h-27zM583 558h13v12h-13z"/><path fill="#009deb" d="M129 546h14v12h-14z"/><path fill="#00d7ff" d="M253 546h13v12h-13zM198 558h13v12h-13zM789 692h13v12h-13zM253 851h13v12h-13zM404 851h14v12h-14zM830 875h14v12h-14z"/><path fill="#00d9ff" d="M266 546h14v12h-14zM844 704h13v13h-13zM954 729h13v12h-13zM445 851h14v12h-14z"/><path fill="#00daff" d="M280 546h96v12h-96zM211 558h14v12h-14zM431 558h14v12h-14zM583 570h13v12h-13zM665 607h14v12h-14zM720 656h14v12h-14zM940 729h14v12h-14zM459 851h27v12h-27z"/><path fill="#00d8ff" d="M376 546h14v12h-14zM445 558h14v12h-14zM596 570h14v12h-14zM651 595h14v12h-14zM761 680h14v12h-14zM967 729h14v12h-14zM418 851h27v12h-27z"/><path fill="#00a6eb" d="M129 558h14v12h-14z"/><path fill="#00deff" d="M225 558h14v12h-14zM555 570h14v12h-14zM706 643h14v13h-14zM830 704h14v13h-14zM912 729h14v12h-14z"/><path fill="#00e1ff" d="M239 558h14v12h-14zM390 558h14v12h-14zM156 582h14v13h-14zM1050 875h14v12h-14z"/><path fill="#00e3ff" d="M253 558h13v12h-13zM376 558h14v12h-14zM445 570h14v12h-14zM610 582h14v13h-14zM651 607h14v12h-14zM692 631h14v12h-14zM871 717h14v12h-14zM899 729h13v12h-13z"/><path fill="#00e6ff" d="M266 558h14v12h-14zM349 558h14v12h-14zM431 570h14v12h-14zM816 704h14v13h-14zM871 875h14v12h-14zM995 875h14v12h-14z"/><path fill="#00e9ff" d="M280 558h41v12h-41zM198 570h13v12h-13zM418 570h13v12h-13zM706 656h14v12h-14zM308 839h13v12h-13zM899 875h13v12h-13zM954 875h13v12h-13z"/><path fill="#00e8ff" d="M321 558h14v12h-14zM198 851h13v12h-13zM885 875h14v12h-14zM967 875h14v12h-14z"/><path fill="#00e7ff" d="M335 558h14v12h-14zM280 839h28v12h-28zM981 875h14v12h-14z"/><path fill="#00e5ff" d="M363 558h13v12h-13zM184 570h14v12h-14zM143 595h13v12h-13zM734 668h13v12h-13zM747 680h14v12h-14zM1009 875h13v12h-13z"/><path fill="#00dfff" d="M404 558h14v12h-14zM459 570h96v12h-96zM637 595h14v12h-14zM679 619h13v12h-13zM596 851h14v12h-14zM1077 875h14v12h-14z"/><path fill="#00dcff" d="M418 558h13v12h-13zM569 570h14v12h-14zM624 582h13v13h-13zM926 729h14v12h-14zM239 851h14v12h-14zM844 875h13v12h-13z"/><path fill="#00d5ff" d="M473 558h13v12h-13zM995 729h14v12h-14zM486 851h14v12h-14z"/><path fill="#00b2eb" d="M129 570h14v12h-14z"/><path fill="#00ddff" d="M170 570h14v12h-14z"/><path fill="#00edff" d="M211 570h14v12h-14zM404 570h14v12h-14zM170 582h14v13h-14zM583 582h13v13h-13zM692 643h14v13h-14zM253 839h13v12h-13zM335 839h14v12h-14zM184 851h14v12h-14z"/><path fill="#00f2ff" d="M225 570h14v12h-14zM514 582h14v13h-14zM885 729h14v12h-14zM1077 741h14v12h-14zM363 839h13v12h-13z"/><path fill="#00f4ff" d="M239 570h14v12h-14zM376 570h14v12h-14zM184 582h14v13h-14zM431 582h14v13h-14zM541 582h14v13h-14zM610 595h14v12h-14zM143 607h13v12h-13zM1036 741h14v12h-14zM376 839h14v12h-14zM170 851h14v12h-14z"/><path fill="#00f6ff" d="M253 570h13v12h-13zM418 582h13v13h-13zM596 595h14v12h-14zM239 839h14v12h-14zM390 839h14v12h-14zM720 863h14v12h-14z"/><path fill="#00f7ff" d="M266 570h14v12h-14zM349 570h27v12h-27zM198 582h13v13h-13zM1022 741h14v12h-14z"/><path fill="#00f8ff" d="M280 570h69v12h-69zM404 582h14v13h-14z"/><path fill="#00f0ff" d="M390 570h14v12h-14zM473 582h13v13h-13zM156 595h14v12h-14zM720 668h14v12h-14z"/><path fill="#00bfeb" d="M129 582h14v13h-14z"/><path fill="#00faff" d="M211 582h14v13h-14zM390 582h14v13h-14zM789 704h13v13h-13zM1009 741h13v12h-13zM528 839h13v12h-13z"/><path fill="#00fdff" d="M225 582h14v13h-14zM376 582h14v13h-14zM473 595h13v12h-13zM528 595h13v12h-13zM665 631h14v12h-14zM995 741h14v12h-14zM514 839h14v12h-14z"/><path fill="#00ffff" d="M239 582h14v13h-14zM349 582h27v13h-27zM156 607h14v12h-14zM143 619h13v12h-13zM706 668h14v12h-14zM720 680h14v12h-14zM431 839h14v12h-14zM569 839h14v12h-14zM156 851h14v12h-14z"/><path fill="#01fffe" d="M253 582h96v13h-96zM459 595h14v12h-14zM596 607h14v12h-14zM692 656h14v12h-14zM981 741h14v12h-14z"/><path fill="#00f1ff" d="M445 582h14v13h-14zM486 582h28v13h-28zM555 582h14v13h-14zM679 631h13v12h-13z"/><path fill="#00efff" d="M459 582h14v13h-14zM569 582h14v13h-14zM761 692h14v12h-14zM802 704h14v13h-14zM349 839h14v12h-14zM610 851h14v12h-14z"/><path fill="#00f3ff" d="M528 582h13v13h-13zM624 607h13v12h-13zM651 619h14v12h-14zM857 717h14v12h-14zM1050 741h27v12h-27z"/><path fill="#00eaff" d="M596 582h14v13h-14zM624 595h13v12h-13zM665 619h14v12h-14zM266 839h14v12h-14z"/><path fill="#00ceeb" d="M129 595h14v12h-14z"/><path fill="#00fbff" d="M170 595h14v12h-14zM486 595h28v12h-28zM569 595h14v12h-14zM610 607h14v12h-14zM637 619h14v12h-14z"/><path fill="#03fffc" d="M184 595h14v12h-14zM445 595h14v12h-14zM624 619h13v12h-13zM445 839h14v12h-14z"/><path fill="#05fffa" d="M198 595h13v12h-13zM170 607h14v12h-14zM225 839h14v12h-14z"/><path fill="#07fff8" d="M211 595h14v12h-14zM954 741h13v12h-13z"/><path fill="#09fff6" d="M225 595h14v12h-14zM418 595h13v12h-13z"/><path fill="#0bfff4" d="M239 595h14v12h-14zM404 595h14v12h-14zM926 741h14v12h-14z"/><path fill="#0dfff2" d="M253 595h13v12h-13zM156 619h14v12h-14zM912 741h14v12h-14zM294 826h14v13h-14z"/><path fill="#10ffef" d="M266 595h14v12h-14zM198 607h13v12h-13zM596 619h14v12h-14zM637 631h14v12h-14zM1077 753h14v12h-14zM363 826h13v13h-13zM583 839h13v12h-13zM143 851h13v12h-13z"/><path fill="#12ffed" d="M280 595h14v12h-14zM445 607h14v12h-14zM857 729h14v12h-14zM1050 753h14v12h-14z"/><path fill="#13ffec" d="M294 595h82v12h-82zM143 631h13v12h-13zM1036 753h14v12h-14zM211 839h14v12h-14z"/><path fill="#11ffee" d="M376 595h14v12h-14zM899 741h13v12h-13zM1064 753h13v12h-13zM280 826h14v13h-14z"/><path fill="#0efff1" d="M390 595h14v12h-14zM706 680h14v12h-14zM734 692h13v12h-13zM816 717h14v12h-14z"/><path fill="#06fff9" d="M431 595h14v12h-14zM569 607h14v12h-14zM830 717h14v12h-14zM459 839h14v12h-14zM486 839h14v12h-14z"/><path fill="#00fcff" d="M514 595h14v12h-14zM679 643h13v13h-13zM844 717h13v12h-13zM418 839h13v12h-13zM555 839h14v12h-14z"/><path fill="#00feff" d="M541 595h28v12h-28z"/><path fill="#00f9ff" d="M583 595h13v12h-13zM734 680h13v12h-13zM747 692h14v12h-14zM404 839h14v12h-14zM541 839h14v12h-14z"/><path fill="#00dbeb" d="M129 607h14v12h-14z"/><path fill="#0afff5" d="M184 607h14v12h-14zM486 607h69v12h-69zM610 619h14v12h-14zM940 741h14v12h-14zM308 826h41v13h-41zM473 839h13v12h-13z"/><path fill="#16ffe9" d="M211 607h14v12h-14zM1022 753h14v12h-14z"/><path fill="#1dffe2" d="M225 607h14v12h-14zM404 607h14v12h-14zM541 619h14v12h-14zM610 631h14v12h-14zM720 692h14v12h-14z"/><path fill="#21ffde" d="M239 607h14v12h-14zM500 619h14v12h-14zM830 729h14v12h-14zM418 826h13v13h-13z"/><path fill="#23ffdc" d="M253 607h13v12h-13zM184 619h14v12h-14zM473 619h13v12h-13zM775 717h14v12h-14z"/><path fill="#25ffda" d="M266 607h14v12h-14zM459 619h14v12h-14zM954 753h13v12h-13zM761 863h14v12h-14z"/><path fill="#27ffd8" d="M280 607h14v12h-14zM445 826h14v13h-14z"/><path fill="#28ffd7" d="M294 607h82v12h-82zM198 619h13v12h-13zM624 643h13v13h-13zM816 729h14v12h-14zM940 753h14v12h-14zM239 826h14v13h-14zM184 839h14v12h-14z"/><path fill="#24ffdb" d="M376 607h14v12h-14zM596 631h14v12h-14zM431 826h14v13h-14z"/><path fill="#20ffdf" d="M390 607h14v12h-14zM514 619h14v12h-14zM637 643h14v13h-14zM596 839h14v12h-14zM637 851h14v12h-14z"/><path fill="#19ffe6" d="M418 607h13v12h-13zM844 729h13v12h-13zM1009 753h13v12h-13z"/><path fill="#15ffea" d="M431 607h14v12h-14zM583 619h13v12h-13zM802 717h14v12h-14zM376 826h14v13h-14z"/><path fill="#0ffff0" d="M459 607h14v12h-14z"/><path fill="#0cfff3" d="M473 607h13v12h-13zM665 643h14v13h-14zM349 826h14v13h-14z"/><path fill="#08fff7" d="M555 607h14v12h-14zM651 631h14v12h-14zM775 704h14v13h-14zM624 851h13v12h-13zM734 863h13v12h-13z"/><path fill="#04fffb" d="M583 607h13v12h-13zM871 729h14v12h-14zM967 741h14v12h-14z"/><path fill="#00ebff" d="M637 607h14v12h-14zM321 839h14v12h-14zM912 875h14v12h-14zM940 875h14v12h-14z"/><path fill="#00e5eb" d="M129 619h14v12h-14z"/><path fill="#1affe5" d="M170 619h14v12h-14zM555 619h14v12h-14zM885 741h14v12h-14zM390 826h14v13h-14z"/><path fill="#2effd1" d="M211 619h14v12h-14zM555 631h14v12h-14zM610 643h14v13h-14zM706 692h14v12h-14zM486 826h14v13h-14zM775 863h14v12h-14z"/><path fill="#33ffcc" d="M225 619h14v12h-14zM528 631h13v12h-13zM1077 765h14v13h-14z"/><path fill="#38ffc7" d="M239 619h14v12h-14zM500 631h14v12h-14zM308 814h13v12h-13zM610 839h14v12h-14zM789 863h13v12h-13z"/><path fill="#3cffc3" d="M253 619h13v12h-13zM363 619h13v12h-13zM184 631h14v12h-14zM1009 765h13v13h-13zM294 814h14v12h-14z"/><path fill="#40ffbf" d="M266 619h14v12h-14zM335 619h14v12h-14zM665 668h14v12h-14zM789 729h13v12h-13zM376 814h14v12h-14zM156 839h14v12h-14z"/><path fill="#44ffbb" d="M280 619h14v12h-14zM308 619h13v12h-13zM198 631h13v12h-13z"/><path fill="#45ffba" d="M294 619h14v12h-14zM830 741h14v12h-14zM967 765h14v13h-14z"/><path fill="#42ffbd" d="M321 619h14v12h-14zM459 631h14v12h-14zM981 765h14v13h-14zM802 863h14v12h-14z"/><path fill="#3fffc0" d="M349 619h14v12h-14zM473 631h13v12h-13zM651 656h14v12h-14zM995 765h14v13h-14z"/><path fill="#3affc5" d="M376 619h14v12h-14zM363 814h13v12h-13z"/><path fill="#37ffc8" d="M390 619h14v12h-14z"/><path fill="#34ffcb" d="M404 619h14v12h-14zM802 729h14v12h-14zM1064 765h13v13h-13zM335 814h28v12h-28z"/><path fill="#30ffcf" d="M418 619h13v12h-13zM170 631h14v12h-14zM541 631h14v12h-14zM514 826h14v13h-14zM651 851h14v12h-14z"/><path fill="#2dffd2" d="M431 619h14v12h-14zM761 717h14v12h-14zM926 753h14v12h-14zM473 826h13v13h-13z"/><path fill="#29ffd6" d="M445 619h14v12h-14zM583 631h13v12h-13z"/><path fill="#22ffdd" d="M486 619h14v12h-14zM156 631h14v12h-14zM967 753h14v12h-14z"/><path fill="#1fffe0" d="M528 619h13v12h-13zM981 753h14v12h-14z"/><path fill="#17ffe8" d="M569 619h14v12h-14zM624 631h13v12h-13zM651 643h14v13h-14zM266 826h14v13h-14z"/><path fill="#0bebe0" d="M129 631h14v12h-14z"/><path fill="#4dffb2" d="M211 631h14v12h-14zM541 643h14v13h-14zM775 729h14v12h-14zM404 814h14v12h-14zM816 863h14v12h-14z"/><path fill="#55ffaa" d="M225 631h14v12h-14zM156 643h14v13h-14z"/><path fill="#5cffa3" d="M239 631h14v12h-14zM1022 778h14v12h-14zM981 863h14v12h-14z"/><path fill="#61ff9e" d="M253 631h13v12h-13zM940 863h14v12h-14z"/><path fill="#66ff99" d="M266 631h14v12h-14zM885 765h14v13h-14z"/><path fill="#6bff94" d="M280 631h14v12h-14zM954 778h13v12h-13z"/><path fill="#6cff93" d="M294 631h14v12h-14zM473 656h13v12h-13zM720 717h14v12h-14z"/><path fill="#6aff95" d="M308 631h13v12h-13zM486 656h14v12h-14z"/><path fill="#67ff98" d="M321 631h14v12h-14zM555 656h14v12h-14zM651 680h14v12h-14zM473 814h13v12h-13z"/><path fill="#64ff9b" d="M335 631h14v12h-14zM569 656h14v12h-14zM789 741h13v12h-13zM844 753h13v12h-13z"/><path fill="#62ff9d" d="M349 631h14v12h-14zM995 778h14v12h-14zM459 814h14v12h-14zM692 851h14v12h-14zM871 863h14v12h-14z"/><path fill="#5fffa0" d="M363 631h13v12h-13zM1009 778h13v12h-13zM857 863h14v12h-14zM954 863h13v12h-13z"/><path fill="#5dffa2" d="M376 631h14v12h-14zM445 643h14v13h-14zM596 656h14v12h-14zM706 704h14v13h-14zM967 863h14v12h-14z"/><path fill="#5affa5" d="M390 631h14v12h-14zM857 753h14v12h-14zM899 765h13v13h-13zM995 863h14v12h-14z"/><path fill="#57ffa8" d="M404 631h14v12h-14zM1064 778h13v12h-13z"/><path fill="#51ffae" d="M418 631h13v12h-13zM1064 863h13v12h-13z"/><path fill="#4cffb3" d="M431 631h14v12h-14z"/><path fill="#46ffb9" d="M445 631h14v12h-14zM143 643h13v13h-13zM747 717h14v12h-14zM390 814h14v12h-14z"/><path fill="#3bffc4" d="M486 631h14v12h-14zM583 643h13v13h-13zM844 741h13v12h-13zM555 826h14v13h-14z"/><path fill="#36ffc9" d="M514 631h14v12h-14zM1036 765h14v13h-14zM321 814h14v12h-14zM225 826h14v13h-14zM541 826h14v13h-14z"/><path fill="#2bffd4" d="M569 631h14v12h-14zM679 668h13v12h-13z"/><path fill="#39ebb2" d="M129 643h14v13h-14z"/><path fill="#65ff9a" d="M170 643h14v13h-14zM981 778h14v12h-14z"/><path fill="#70ff8f" d="M184 643h14v13h-14zM459 656h14v12h-14z"/><path fill="#77ff88" d="M198 643h13v13h-13z"/><path fill="#7dff82" d="M211 643h14v13h-14zM1009 790h13v12h-13z"/><path fill="#84ff7b" d="M225 643h14v13h-14zM418 802h13v12h-13z"/><path fill="#89ff76" d="M239 643h14v13h-14zM541 668h14v12h-14zM844 765h13v13h-13zM747 851h14v12h-14z"/><path fill="#8dff72" d="M253 643h13v13h-13zM184 656h14v12h-14zM390 656h14v12h-14zM528 814h13v12h-13z"/><path fill="#90ff6f" d="M266 643h14v13h-14z"/><path fill="#94ff6b" d="M280 643h14v13h-14zM692 717h14v12h-14zM995 802h14v12h-14z"/><path fill="#93ff6c" d="M294 643h14v13h-14zM926 790h14v12h-14zM459 802h14v12h-14z"/><path fill="#91ff6e" d="M308 643h13v13h-13zM198 656h13v12h-13zM637 692h14v12h-14zM885 778h14v12h-14zM1009 802h13v12h-13zM1050 851h14v12h-14z"/><path fill="#8eff71" d="M321 643h14v13h-14zM431 668h14v12h-14zM1022 802h14v12h-14zM1064 851h13v12h-13z"/><path fill="#8aff75" d="M335 643h14v13h-14z"/><path fill="#85ff7a" d="M349 643h14v13h-14zM514 668h14v12h-14zM555 668h14v12h-14zM967 790h14v12h-14zM1064 802h13v12h-13z"/><path fill="#80ff7f" d="M363 643h13v13h-13zM418 656h13v12h-13zM500 668h14v12h-14zM569 668h14v12h-14zM995 790h14v12h-14zM390 802h14v12h-14z"/><path fill="#7aff85" d="M376 643h14v13h-14zM431 656h14v12h-14zM1022 790h14v12h-14z"/><path fill="#75ff8a" d="M390 643h14v13h-14zM692 704h14v13h-14zM1064 790h13v12h-13zM335 802h14v12h-14z"/><path fill="#6fff90" d="M404 643h14v13h-14zM637 680h14v12h-14zM486 814h14v12h-14z"/><path fill="#69ff96" d="M418 643h13v13h-13zM500 656h55v12h-55z"/><path fill="#63ff9c" d="M431 643h14v13h-14zM885 863h55v12h-55z"/><path fill="#58ffa7" d="M459 643h14v13h-14zM1050 778h14v12h-14zM679 851h13v12h-13zM830 863h14v12h-14zM1009 863h13v12h-13z"/><path fill="#52ffad" d="M473 643h13v13h-13zM624 656h13v12h-13z"/><path fill="#50ffaf" d="M486 643h42v13h-42zM1077 863h14v12h-14z"/><path fill="#4fffb0" d="M528 643h13v13h-13zM816 741h14v12h-14zM871 753h14v12h-14zM926 765h14v13h-14z"/><path fill="#47ffb8" d="M555 643h14v13h-14z"/><path fill="#41ffbe" d="M569 643h14v13h-14z"/><path fill="#35ffca" d="M596 643h14v13h-14zM1050 765h14v13h-14z"/><path fill="#6beb80" d="M129 656h14v12h-14z"/><path fill="#78ff87" d="M143 656h13v12h-13zM624 680h13v12h-13zM761 741h14v12h-14zM816 753h14v12h-14zM1036 790h14v12h-14zM294 802h14v12h-14zM500 814h14v12h-14zM184 826h14v13h-14zM637 839h14v12h-14z"/><path fill="#7fff80" d="M156 656h14v12h-14zM706 717h14v12h-14zM912 778h14v12h-14z"/><path fill="#87ff78" d="M170 656h14v12h-14zM404 656h14v12h-14zM1050 802h14v12h-14z"/><path fill="#95ff6a" d="M211 656h14v12h-14zM775 753h14v12h-14zM1036 851h14v12h-14z"/><path fill="#99ff66" d="M225 656h14v12h-14zM583 680h13v12h-13zM321 790h14v12h-14z"/><path fill="#9bff64" d="M239 656h14v12h-14zM816 765h14v13h-14zM871 778h14v12h-14zM335 790h14v12h-14zM253 802h13v12h-13zM473 802h13v12h-13zM211 814h14v12h-14z"/><path fill="#9cff63" d="M253 656h13v12h-13zM912 790h14v12h-14zM1077 814h14v12h-14zM789 851h13v12h-13zM1009 851h13v12h-13z"/><path fill="#9eff61" d="M266 656h14v12h-14zM624 692h13v12h-13zM349 790h14v12h-14zM1064 814h13v12h-13z"/><path fill="#9fff60" d="M280 656h69v12h-69zM143 668h13v12h-13zM761 753h14v12h-14zM541 814h14v12h-14zM156 826h14v13h-14zM995 851h14v12h-14z"/><path fill="#9dff62" d="M349 656h14v12h-14zM665 704h14v13h-14zM954 802h13v12h-13z"/><path fill="#98ff67" d="M363 656h13v12h-13zM1022 851h14v12h-14z"/><path fill="#92ff6d" d="M376 656h14v12h-14zM830 765h14v13h-14z"/><path fill="#73ff8c" d="M445 656h14v12h-14zM583 826h13v13h-13z"/><path fill="#60ff9f" d="M583 656h13v12h-13z"/><path fill="#59ffa6" d="M610 656h14v12h-14zM734 717h13v12h-13zM761 729h14v12h-14zM802 741h14v12h-14zM1036 778h14v12h-14zM253 814h13v12h-13zM431 814h14v12h-14zM143 839h13v12h-13zM624 839h13v12h-13z"/><path fill="#4affb5" d="M637 656h14v12h-14zM651 668h14v12h-14z"/><path fill="#31ffce" d="M665 656h14v12h-14zM734 704h13v13h-13zM857 741h14v12h-14zM170 839h14v12h-14z"/><path fill="#1bffe4" d="M679 656h13v12h-13zM789 717h13v12h-13z"/><path fill="#8feb5c" d="M129 668h14v12h-14z"/><path fill="#a7ff58" d="M156 668h14v12h-14zM528 680h27v12h-27zM486 802h14v12h-14zM940 851h14v12h-14z"/><path fill="#afff50" d="M170 668h14v12h-14zM706 729h14v12h-14zM844 778h13v12h-13zM830 851h14v12h-14z"/><path fill="#b3ff4c" d="M184 668h14v12h-14zM376 668h14v12h-14zM418 680h13v12h-13zM198 814h13v12h-13z"/><path fill="#b8ff47" d="M198 668h13v12h-13zM445 790h14v12h-14zM871 790h14v12h-14zM1050 826h14v13h-14zM1050 839h14v12h-14z"/><path fill="#bcff43" d="M211 668h14v12h-14zM596 692h14v12h-14zM899 802h13v12h-13z"/><path fill="#bfff40" d="M225 668h14v12h-14zM1009 839h13v12h-13z"/><path fill="#c3ff3c" d="M239 668h14v12h-14zM349 668h14v12h-14z"/><path fill="#c7ff38" d="M253 668h13v12h-13zM335 668h14v12h-14zM390 680h14v12h-14zM459 692h14v12h-14zM514 692h14v12h-14zM184 814h14v12h-14zM624 826h13v13h-13zM967 839h14v12h-14z"/><path fill="#caff35" d="M266 668h14v12h-14z"/><path fill="#ceff31" d="M280 668h14v12h-14zM308 778h13v12h-13zM335 778h14v12h-14zM940 839h14v12h-14z"/><path fill="#ccff33" d="M294 668h14v12h-14zM445 692h14v12h-14zM528 692h13v12h-13zM734 753h13v12h-13zM225 802h14v12h-14zM885 802h14v12h-14zM569 814h14v12h-14zM967 826h14v13h-14z"/><path fill="#cbff34" d="M308 668h13v12h-13zM321 778h14v12h-14zM954 839h13v12h-13z"/><path fill="#c9ff36" d="M321 668h14v12h-14zM569 692h14v12h-14zM624 704h13v13h-13zM802 778h14v12h-14zM266 790h14v12h-14zM981 826h14v13h-14z"/><path fill="#bbff44" d="M363 668h13v12h-13zM665 717h14v12h-14zM500 802h14v12h-14zM1036 826h14v13h-14zM857 851h14v12h-14z"/><path fill="#aaff55" d="M390 668h14v12h-14zM789 765h13v13h-13z"/><path fill="#a0ff5f" d="M404 668h14v12h-14zM363 790h13v12h-13zM940 802h14v12h-14z"/><path fill="#96ff69" d="M418 668h13v12h-13zM651 839h14v12h-14zM775 851h14v12h-14z"/><path fill="#86ff79" d="M445 668h14v12h-14zM651 692h14v12h-14zM734 729h13v12h-13zM431 802h14v12h-14zM596 826h14v13h-14z"/><path fill="#83ff7c" d="M459 668h14v12h-14zM1077 802h14v12h-14z"/><path fill="#80ff80" d="M473 668h13v12h-13z"/><path fill="#7eff81" d="M486 668h14v12h-14zM376 802h14v12h-14z"/><path fill="#88ff77" d="M528 668h13v12h-13zM899 778h13v12h-13zM954 790h13v12h-13z"/><path fill="#7cff83" d="M583 668h13v12h-13zM363 802h13v12h-13z"/><path fill="#72ff8d" d="M596 668h14v12h-14zM321 802h14v12h-14z"/><path fill="#68ff97" d="M610 668h14v12h-14zM679 692h13v12h-13zM967 778h14v12h-14zM706 851h14v12h-14z"/><path fill="#5effa1" d="M624 668h13v12h-13zM445 814h14v12h-14zM198 826h13v13h-13z"/><path fill="#54ffab" d="M637 668h14v12h-14zM569 826h14v13h-14zM1036 863h14v12h-14z"/><path fill="#14ffeb" d="M692 668h14v12h-14zM761 704h14v13h-14z"/><path fill="#bdeb2e" d="M129 680h14v12h-14z"/><path fill="#d1ff2e" d="M143 680h13v12h-13zM376 680h14v12h-14zM541 692h14v12h-14zM789 778h13v12h-13zM514 802h14v12h-14z"/><path fill="#d9ff26" d="M156 680h14v12h-14z"/><path fill="#e1ff1e" d="M170 680h14v12h-14zM528 802h13v12h-13zM830 802h14v12h-14zM885 814h14v12h-14z"/><path fill="#e3ff1c" d="M184 680h14v12h-14zM445 704h14v13h-14z"/><path fill="#e6ff19" d="M198 680h13v12h-13z"/><path fill="#e9ff16" d="M211 680h14v12h-14zM335 680h14v12h-14zM899 826h13v13h-13zM775 839h14v12h-14z"/><path fill="#ecff13" d="M225 680h14v12h-14zM486 790h14v12h-14z"/><path fill="#eeff11" d="M239 680h14v12h-14zM390 692h14v12h-14z"/><path fill="#f0ff0f" d="M253 680h13v12h-13zM308 680h13v12h-13z"/><path fill="#f3ff0c" d="M266 680h14v12h-14zM294 680h14v12h-14zM569 704h14v13h-14z"/><path fill="#f5ff0a" d="M280 680h14v12h-14zM528 704h13v13h-13zM376 765h14v13h-14zM844 839h13v12h-13z"/><path fill="#edff12" d="M321 680h14v12h-14zM418 704h13v13h-13zM583 704h13v13h-13zM802 839h14v12h-14z"/><path fill="#e2ff1d" d="M349 680h14v12h-14zM500 704h14v13h-14zM253 790h13v12h-13zM734 839h13v12h-13z"/><path fill="#daff25" d="M363 680h13v12h-13zM404 778h14v12h-14zM720 839h14v12h-14z"/><path fill="#bdff42" d="M404 680h14v12h-14zM954 814h13v12h-13zM1022 839h14v12h-14z"/><path fill="#a9ff56" d="M431 680h14v12h-14zM679 717h13v12h-13zM1022 814h14v12h-14zM665 839h14v12h-14zM816 851h14v12h-14zM926 851h14v12h-14z"/><path fill="#a6ff59" d="M445 680h14v12h-14zM404 790h14v12h-14z"/><path fill="#a3ff5c" d="M459 680h14v12h-14zM500 680h14v12h-14zM926 802h14v12h-14zM802 851h14v12h-14zM967 851h14v12h-14z"/><path fill="#a1ff5e" d="M473 680h27v12h-27zM569 680h14v12h-14zM1050 814h14v12h-14zM981 851h14v12h-14z"/><path fill="#a5ff5a" d="M514 680h14v12h-14zM294 790h14v12h-14zM899 790h13v12h-13zM1036 814h14v12h-14zM954 851h13v12h-13z"/><path fill="#a4ff5b" d="M555 680h14v12h-14zM734 741h13v12h-13zM857 778h14v12h-14zM390 790h14v12h-14zM610 826h14v13h-14z"/><path fill="#8cff73" d="M596 680h14v12h-14zM445 802h14v12h-14zM1077 851h14v12h-14z"/><path fill="#81ff7e" d="M610 680h14v12h-14zM802 753h14v12h-14zM857 765h14v13h-14zM280 802h14v12h-14zM225 814h14v12h-14zM514 814h14v12h-14zM734 851h13v12h-13z"/><path fill="#5bffa4" d="M665 680h14v12h-14zM844 863h13v12h-13z"/><path fill="#49ffb6" d="M679 680h13v12h-13z"/><path fill="#2cffd3" d="M692 680h14v12h-14z"/><path fill="#ebe700" d="M129 692h14v12h-14z"/><path fill="#fff900" d="M143 692h13v12h-13zM349 692h14v12h-14zM816 826h14v13h-14z"/><path fill="#fff400" d="M156 692h14v12h-14zM445 729h14v12h-14zM418 741h27v12h-27z"/><path fill="#ffef00" d="M170 692h14v12h-14zM321 692h14v12h-14zM363 753h13v12h-13zM308 765h13v13h-13z"/><path fill="#ffec00" d="M184 692h14v12h-14zM376 704h14v13h-14zM500 717h14v12h-14zM349 753h14v12h-14z"/><path fill="#ffea00" d="M198 692h13v12h-13zM308 692h13v12h-13zM390 717h14v12h-14zM789 826h13v13h-13z"/><path fill="#ffe700" d="M211 692h14v12h-14zM404 729h14v12h-14zM473 741h13v12h-13z"/><path fill="#ffe500" d="M225 692h14v12h-14zM294 692h14v12h-14zM473 765h13v13h-13zM747 790h14v12h-14zM555 802h14v12h-14zM775 814h14v12h-14z"/><path fill="#ffe400" d="M239 692h14v12h-14zM363 704h13v13h-13zM514 717h14v12h-14zM486 729h14v12h-14z"/><path fill="#ffe300" d="M253 692h13v12h-13zM583 717h13v12h-13zM665 741h14v12h-14z"/><path fill="#ffe200" d="M266 692h14v12h-14zM363 741h13v12h-13zM335 753h14v12h-14z"/><path fill="#ffe100" d="M280 692h14v12h-14zM390 729h14v12h-14zM473 753h13v12h-13zM253 778h13v12h-13zM184 802h14v12h-14zM761 802h14v12h-14zM775 826h14v13h-14z"/><path fill="#fff300" d="M335 692h14v12h-14zM404 717h14v12h-14zM459 729h14v12h-14zM376 753h14v12h-14zM720 765h14v13h-14z"/><path fill="#fdff02" d="M363 692h13v12h-13z"/><path fill="#f6ff09" d="M376 692h14v12h-14zM775 790h14v12h-14zM844 814h13v12h-13z"/><path fill="#e5ff1a" d="M404 692h14v12h-14zM431 704h14v13h-14zM720 753h14v12h-14zM761 778h14v12h-14zM211 802h14v12h-14z"/><path fill="#ddff22" d="M418 692h13v12h-13zM473 704h13v13h-13z"/><path fill="#d4ff2b" d="M431 692h14v12h-14zM940 826h14v13h-14z"/><path fill="#c2ff3d" d="M473 692h13v12h-13zM500 692h14v12h-14zM761 765h14v13h-14zM459 790h14v12h-14zM1009 826h13v13h-13zM995 839h14v12h-14z"/><path fill="#c0ff3f" d="M486 692h14v12h-14zM720 741h14v12h-14z"/><path fill="#cdff32" d="M555 692h14v12h-14zM651 717h14v12h-14zM912 814h14v12h-14z"/><path fill="#c4ff3b" d="M583 692h13v12h-13zM679 839h13v12h-13z"/><path fill="#aeff51" d="M610 692h14v12h-14zM747 753h14v12h-14zM431 790h14v12h-14zM885 790h14v12h-14zM239 802h14v12h-14zM912 802h14v12h-14zM912 851h14v12h-14z"/><path fill="#7bff84" d="M665 692h14v12h-14z"/><path fill="#4bffb4" d="M692 692h14v12h-14zM940 765h14v13h-14zM266 814h14v12h-14zM211 826h14v13h-14z"/><path fill="#00e4ff" d="M775 692h14v12h-14zM211 851h14v12h-14zM1022 875h14v12h-14z"/><path fill="#ebc400" d="M129 704h14v13h-14z"/><path fill="#ffd200" d="M143 704h13v13h-13zM363 717h13v12h-13zM335 741h14v12h-14zM651 741h14v12h-14zM211 790h14v12h-14zM734 790h13v12h-13z"/><path fill="#ffce00" d="M156 704h14v13h-14zM266 765h14v13h-14zM239 778h14v12h-14zM747 802h14v12h-14z"/><path fill="#ffca00" d="M170 704h14v13h-14zM610 814h14v12h-14z"/><path fill="#ffc600" d="M184 704h14v13h-14zM692 826h14v13h-14z"/><path fill="#ffc300" d="M198 704h13v13h-13zM596 729h14v12h-14zM294 753h14v12h-14zM514 778h14v12h-14z"/><path fill="#ffbf00" d="M211 704h14v13h-14zM500 753h14v12h-14zM541 790h14v12h-14z"/><path fill="#ffc000" d="M225 704h14v13h-14zM637 741h14v12h-14z"/><path fill="#ffc100" d="M239 704h14v13h-14zM679 753h13v12h-13z"/><path fill="#ffc200" d="M253 704h27v13h-27zM500 765h14v13h-14zM692 765h14v13h-14zM706 826h14v13h-14z"/><path fill="#ffc500" d="M280 704h14v13h-14zM335 717h14v12h-14zM335 729h14v12h-14zM500 741h14v12h-14zM720 826h14v13h-14z"/><path fill="#ffc800" d="M294 704h14v13h-14zM514 729h14v12h-14zM321 741h14v12h-14z"/><path fill="#ffcb00" d="M308 704h13v13h-13zM734 826h13v13h-13z"/><path fill="#ffd000" d="M321 704h14v13h-14zM349 729h14v12h-14zM679 826h13v13h-13z"/><path fill="#ffd500" d="M335 704h14v13h-14zM500 729h14v12h-14z"/><path fill="#ffdb00" d="M349 704h14v13h-14zM555 717h14v12h-14zM376 729h14v12h-14zM349 741h14v12h-14zM528 790h13v12h-13z"/><path fill="#fcff03" d="M390 704h14v13h-14zM418 765h13v13h-13z"/><path fill="#f4ff0b" d="M404 704h14v13h-14zM473 778h13v12h-13zM747 778h14v12h-14zM802 802h14v12h-14zM885 826h14v13h-14z"/><path fill="#e0ff1f" d="M459 704h14v13h-14zM445 778h14v12h-14zM802 790h14v12h-14zM899 839h13v12h-13z"/><path fill="#deff21" d="M486 704h14v13h-14zM431 778h14v12h-14zM857 802h14v12h-14zM912 826h14v13h-14z"/><path fill="#ebff14" d="M514 704h14v13h-14zM789 839h13v12h-13z"/><path fill="#ffff00" d="M541 704h14v13h-14zM349 765h14v13h-14zM239 790h14v12h-14zM816 814h14v12h-14z"/><path fill="#f9ff06" d="M555 704h14v13h-14zM500 790h14v12h-14z"/><path fill="#e4ff1b" d="M596 704h14v13h-14zM747 839h14v12h-14z"/><path fill="#d7ff28" d="M610 704h14v13h-14zM899 814h13v12h-13zM912 839h14v12h-14z"/><path fill="#baff45" d="M637 704h14v13h-14zM1036 839h14v12h-14zM871 851h14v12h-14z"/><path fill="#abff54" d="M651 704h14v13h-14z"/><path fill="#8bff74" d="M679 704h13v13h-13zM747 741h14v12h-14zM789 753h13v12h-13zM940 790h14v12h-14zM266 802h14v12h-14zM1036 802h14v12h-14zM170 826h14v13h-14z"/><path fill="#48ffb7" d="M720 704h14v13h-14zM954 765h13v13h-13zM665 851h14v12h-14z"/><path fill="#1effe1" d="M747 704h14v13h-14zM253 826h13v13h-13zM404 826h14v13h-14zM198 839h13v12h-13z"/><path fill="#eb9f00" d="M129 717h14v12h-14z"/><path fill="#ffab00" d="M143 717h13v12h-13zM514 741h14v12h-14zM184 790h14v12h-14zM583 802h13v12h-13zM624 814h13v12h-13z"/><path fill="#ffa600" d="M156 717h14v12h-14zM280 741h14v12h-14zM266 753h14v12h-14z"/><path fill="#ffa200" d="M170 717h14v12h-14z"/><path fill="#ff9e00" d="M184 717h14v12h-14z"/><path fill="#ff9a00" d="M198 717h13v12h-13zM528 741h13v12h-13z"/><path fill="#ff9600" d="M211 717h14v12h-14z"/><path fill="#ff9800" d="M225 717h14v12h-14zM706 790h14v12h-14z"/><path fill="#ff9b00" d="M239 717h14v12h-14zM651 753h14v12h-14z"/><path fill="#ff9d00" d="M253 717h13v12h-13zM294 729h14v12h-14z"/><path fill="#ff9f00" d="M266 717h14v12h-14zM211 778h14v12h-14zM143 802h13v12h-13z"/><path fill="#ffa400" d="M280 717h14v12h-14zM720 802h14v12h-14z"/><path fill="#ffa900" d="M294 717h14v12h-14z"/><path fill="#ffb100" d="M308 717h13v12h-13z"/><path fill="#ffbc00" d="M321 717h14v12h-14z"/><path fill="#ffcc00" d="M349 717h14v12h-14z"/><path fill="#ffde00" d="M376 717h14v12h-14zM528 717h13v12h-13zM692 753h14v12h-14zM500 778h14v12h-14z"/><path fill="#fffc00" d="M418 717h68v12h-68zM610 717h14v12h-14zM789 802h13v12h-13z"/><path fill="#fff500" d="M486 717h14v12h-14zM431 753h14v12h-14zM321 765h14v13h-14zM459 765h14v13h-14zM486 778h14v12h-14zM775 802h14v12h-14zM143 814h13v12h-13zM802 826h14v13h-14z"/><path fill="#ffd700" d="M541 717h14v12h-14zM321 753h14v12h-14zM486 765h14v13h-14zM761 814h14v12h-14zM761 826h14v13h-14z"/><path fill="#ffdf00" d="M569 717h14v12h-14zM665 826h14v13h-14z"/><path fill="#ffed00" d="M596 717h14v12h-14zM418 729h13v12h-13zM390 741h14v12h-14zM459 741h14v12h-14z"/><path fill="#f1ff0e" d="M624 717h13v12h-13zM692 741h14v12h-14zM857 814h14v12h-14z"/><path fill="#dfff20" d="M637 717h14v12h-14zM844 802h13v12h-13zM170 814h14v12h-14z"/><path fill="#eb6e00" d="M129 729h14v12h-14z"/><path fill="#ff7600" d="M143 729h13v12h-13zM239 741h14v12h-14z"/><path fill="#ff7300" d="M156 729h14v12h-14z"/><path fill="#ff7100" d="M170 729h14v12h-14zM211 729h14v12h-14z"/><path fill="#ff7000" d="M184 729h14v12h-14z"/><path fill="#ff6f00" d="M198 729h13v12h-13z"/><path fill="#ff7800" d="M225 729h14v12h-14zM239 753h14v12h-14z"/><path fill="#ff7f00" d="M239 729h14v12h-14z"/><path fill="#ff8600" d="M253 729h13v12h-13z"/><path fill="#ff8d00" d="M266 729h14v12h-14zM555 741h14v12h-14zM706 814h14v12h-14z"/><path fill="#ff9500" d="M280 729h14v12h-14z"/><path fill="#ffa800" d="M308 729h13v12h-13z"/><path fill="#ffb600" d="M321 729h14v12h-14zM706 778h14v12h-14z"/><path fill="#ffd600" d="M363 729h13v12h-13z"/><path fill="#fff200" d="M431 729h14v12h-14zM445 753h14v12h-14z"/><path fill="#fff100" d="M473 729h13v12h-13zM404 741h14v12h-14zM445 741h14v12h-14zM734 778h13v12h-13zM789 814h13v12h-13z"/><path fill="#ffbe00" d="M528 729h13v12h-13zM308 741h13v12h-13zM198 790h13v12h-13z"/><path fill="#ffb400" d="M541 729h14v12h-14zM253 765h13v13h-13zM225 778h14v12h-14zM156 802h14v12h-14zM734 814h13v12h-13z"/><path fill="#ffb200" d="M555 729h14v12h-14zM294 741h14v12h-14z"/><path fill="#ffb800" d="M569 729h14v12h-14zM720 790h14v12h-14z"/><path fill="#ffbd00" d="M583 729h13v12h-13z"/><path fill="#ffc900" d="M610 729h14v12h-14zM170 802h14v12h-14zM569 802h14v12h-14zM747 814h14v12h-14z"/><path fill="#ffd900" d="M624 729h13v12h-13z"/><path fill="#ffe900" d="M637 729h14v12h-14zM225 790h14v12h-14z"/><path fill="#fffb00" d="M651 729h14v12h-14zM830 826h14v13h-14z"/><path fill="#efff10" d="M665 729h14v12h-14zM280 778h14v12h-14zM541 802h14v12h-14zM816 839h14v12h-14z"/><path fill="#dbff24" d="M679 729h13v12h-13zM294 778h14v12h-14zM775 778h14v12h-14z"/><path fill="#c6ff39" d="M692 729h14v12h-14z"/><path fill="#9aff65" d="M720 729h14v12h-14zM308 790h13v12h-13zM967 802h14v12h-14z"/><path fill="#6eff91" d="M747 729h14v12h-14zM775 741h14v12h-14zM830 753h14v12h-14zM940 778h14v12h-14zM239 814h14v12h-14z"/><path fill="#eb4900" d="M129 741h14v12h-14z"/><path fill="#ff4e00" d="M143 741h13v12h-13zM198 753h13v12h-13z"/><path fill="#ff4d00" d="M156 741h14v12h-14z"/><path fill="#ff4f00" d="M170 741h14v12h-14z"/><path fill="#ff5400" d="M184 741h14v12h-14zM198 765h13v13h-13zM583 765h13v13h-13z"/><path fill="#ff5800" d="M198 741h13v12h-13zM610 765h14v13h-14z"/><path fill="#ff6000" d="M211 741h14v12h-14zM624 765h13v13h-13z"/><path fill="#ff6900" d="M225 741h14v12h-14zM569 753h14v12h-14zM610 753h14v12h-14zM637 765h14v13h-14zM143 790h13v12h-13z"/><path fill="#ff8700" d="M253 741h13v12h-13zM569 741h14v12h-14zM637 753h14v12h-14zM596 802h14v12h-14z"/><path fill="#ff9700" d="M266 741h14v12h-14zM692 778h14v12h-14z"/><path fill="#ffe800" d="M376 741h14v12h-14z"/><path fill="#ffda00" d="M486 741h14v12h-14zM280 765h14v13h-14zM706 765h14v13h-14z"/><path fill="#ff9200" d="M541 741h14v12h-14z"/><path fill="#ff9000" d="M583 741h13v12h-13z"/><path fill="#ff9900" d="M596 741h14v12h-14z"/><path fill="#ffa100" d="M610 741h14v12h-14z"/><path fill="#ffaf00" d="M624 741h13v12h-13z"/><path fill="#fff600" d="M679 741h13v12h-13zM514 790h14v12h-14z"/><path fill="#d8ff27" d="M706 741h14v12h-14zM390 778h14v12h-14zM871 802h14v12h-14zM926 826h14v13h-14z"/><path fill="#26ffd9" d="M871 741h14v12h-14z"/><path fill="#eb2d00" d="M129 753h14v12h-14z"/><path fill="#ff3100" d="M143 753h13v12h-13z"/><path fill="#ff3300" d="M156 753h14v12h-14z"/><path fill="#ff3800" d="M170 753h14v12h-14zM170 765h14v13h-14z"/><path fill="#ff3d00" d="M184 753h14v12h-14zM143 778h13v12h-13zM610 778h14v12h-14z"/><path fill="#ff5c00" d="M211 753h14v12h-14z"/><path fill="#ff6800" d="M225 753h14v12h-14z"/><path fill="#ff8c00" d="M253 753h13v12h-13zM528 753h13v12h-13zM665 765h14v13h-14z"/><path fill="#ffb900" d="M280 753h14v12h-14zM734 802h13v12h-13z"/><path fill="#ffcd00" d="M308 753h13v12h-13z"/><path fill="#fff700" d="M390 753h14v12h-14zM418 753h13v12h-13zM266 778h14v12h-14zM596 814h14v12h-14zM651 826h14v13h-14z"/><path fill="#fffa00" d="M404 753h14v12h-14zM335 765h14v13h-14zM761 790h14v12h-14zM198 802h13v12h-13z"/><path fill="#ffeb00" d="M459 753h14v12h-14z"/><path fill="#ffd400" d="M486 753h14v12h-14zM720 778h14v12h-14z"/><path fill="#ffa300" d="M514 753h14v12h-14zM528 778h13v12h-13z"/><path fill="#ff7900" d="M541 753h14v12h-14zM624 753h13v12h-13zM651 765h14v13h-14zM569 790h14v12h-14z"/><path fill="#ff6e00" d="M555 753h14v12h-14zM541 765h14v13h-14zM184 778h14v12h-14zM610 802h14v12h-14z"/><path fill="#ff6400" d="M583 753h13v12h-13zM211 765h14v13h-14zM555 778h14v12h-14zM665 778h14v12h-14zM583 790h13v12h-13z"/><path fill="#ff6700" d="M596 753h14v12h-14z"/><path fill="#ffae00" d="M665 753h14v12h-14z"/><path fill="#fffd00" d="M706 753h14v12h-14zM445 765h14v13h-14z"/><path fill="#43ffbc" d="M885 753h14v12h-14zM280 814h14v12h-14z"/><path fill="#39ffc6" d="M899 753h13v12h-13zM1022 765h14v13h-14z"/><path fill="#32ffcd" d="M912 753h14v12h-14zM528 826h13v13h-13z"/><path fill="#1cffe3" d="M995 753h14v12h-14z"/><path fill="#eb2400" d="M129 765h14v13h-14z"/><path fill="#ff2900" d="M143 765h13v13h-13z"/><path fill="#ff2e00" d="M156 765h14v13h-14z"/><path fill="#ff4600" d="M184 765h14v13h-14zM637 778h14v12h-14z"/><path fill="#ff7e00" d="M225 765h14v13h-14zM541 778h14v12h-14zM156 790h14v12h-14zM665 814h14v12h-14z"/><path fill="#ff9c00" d="M239 765h14v13h-14zM555 790h14v12h-14z"/><path fill="#ffe600" d="M294 765h14v13h-14z"/><path fill="#faff05" d="M363 765h13v13h-13zM404 765h14v13h-14z"/><path fill="#f8ff07" d="M390 765h14v13h-14z"/><path fill="#feff01" d="M431 765h14v13h-14zM857 826h14v13h-14z"/><path fill="#ffa500" d="M514 765h14v13h-14zM679 765h13v13h-13z"/><path fill="#ff8900" d="M528 765h13v13h-13z"/><path fill="#ff5b00" d="M555 765h14v13h-14zM170 778h14v12h-14zM651 778h14v12h-14z"/><path fill="#ff5600" d="M569 765h14v13h-14zM624 802h13v12h-13z"/><path fill="#ff5100" d="M596 765h14v13h-14zM569 778h14v12h-14zM596 790h14v12h-14z"/><path fill="#eaff15" d="M734 765h13v13h-13zM789 790h13v12h-13zM816 802h14v12h-14zM871 814h14v12h-14zM885 839h14v12h-14z"/><path fill="#d6ff29" d="M747 765h14v13h-14zM376 778h14v12h-14zM473 790h13v12h-13zM816 790h14v12h-14zM706 839h14v12h-14z"/><path fill="#b5ff4a" d="M775 765h14v13h-14zM981 814h14v12h-14zM844 851h13v12h-13z"/><path fill="#a2ff5d" d="M802 765h14v13h-14zM376 790h14v12h-14z"/><path fill="#74ff8b" d="M871 765h14v13h-14zM1077 790h14v12h-14zM720 851h14v12h-14z"/><path fill="#53ffac" d="M912 765h14v13h-14zM418 814h13v12h-13zM1050 863h14v12h-14z"/><path fill="#eb3100" d="M129 778h14v12h-14z"/><path fill="#ff4c00" d="M156 778h14v12h-14zM637 802h42v12h-42z"/><path fill="#ff8300" d="M198 778h13v12h-13zM651 814h14v12h-14z"/><path fill="#d0ff2f" d="M349 778h14v12h-14zM954 826h13v13h-13z"/><path fill="#d3ff2c" d="M363 778h13v12h-13z"/><path fill="#dcff23" d="M418 778h13v12h-13z"/><path fill="#e7ff18" d="M459 778h14v12h-14zM583 814h13v12h-13zM637 826h14v13h-14zM761 839h14v12h-14z"/><path fill="#ff4100" d="M583 778h13v12h-13zM624 778h13v12h-13zM665 790h14v12h-14z"/><path fill="#ff3f00" d="M596 778h14v12h-14z"/><path fill="#ff7b00" d="M679 778h13v12h-13z"/><path fill="#c1ff3e" d="M816 778h14v12h-14zM857 790h14v12h-14zM940 814h14v12h-14z"/><path fill="#b9ff46" d="M830 778h14v12h-14zM555 814h14v12h-14zM967 814h14v12h-14zM143 826h13v13h-13z"/><path fill="#76ff89" d="M926 778h14v12h-14zM1050 790h14v12h-14z"/><path fill="#56ffa9" d="M1077 778h14v12h-14zM1022 863h14v12h-14z"/><path fill="#eb5700" d="M129 790h14v12h-14z"/><path fill="#ff9100" d="M170 790h14v12h-14zM637 814h14v12h-14z"/><path fill="#b7ff48" d="M280 790h14v12h-14zM1064 826h13v13h-13zM1064 839h13v12h-13zM885 851h14v12h-14z"/><path fill="#a8ff57" d="M418 790h13v12h-13z"/><path fill="#ff4700" d="M610 790h14v12h-14z"/><path fill="#ff4000" d="M624 790h13v12h-13z"/><path fill="#ff3e00" d="M637 790h28v12h-28z"/><path fill="#ff5900" d="M679 790h13v12h-13z"/><path fill="#ff7500" d="M692 790h14v12h-14z"/><path fill="#cfff30" d="M830 790h14v12h-14z"/><path fill="#c8ff37" d="M844 790h13v12h-13z"/><path fill="#82ff7d" d="M981 790h14v12h-14zM404 802h14v12h-14z"/><path fill="#eb8900" d="M129 802h14v12h-14z"/><path fill="#71ff8e" d="M308 802h13v12h-13z"/><path fill="#79ff86" d="M349 802h14v12h-14z"/><path fill="#ff5e00" d="M679 802h13v12h-13z"/><path fill="#ff7200" d="M692 802h14v12h-14z"/><path fill="#ff8b00" d="M706 802h14v12h-14z"/><path fill="#97ff68" d="M981 802h14v12h-14z"/><path fill="#ebd700" d="M129 814h14v12h-14z"/><path fill="#f2ff0d" d="M156 814h14v12h-14zM830 839h14v12h-14zM871 839h14v12h-14z"/><path fill="#ff7c00" d="M679 814h13v12h-13z"/><path fill="#ff8000" d="M692 814h14v12h-14z"/><path fill="#ffa000" d="M720 814h14v12h-14z"/><path fill="#fff800" d="M802 814h14v12h-14z"/><path fill="#fbff04" d="M830 814h14v12h-14zM871 826h14v13h-14z"/><path fill="#c5ff3a" d="M926 814h14v12h-14zM995 826h14v13h-14zM981 839h14v12h-14z"/><path fill="#b1ff4e" d="M995 814h14v12h-14z"/><path fill="#adff52" d="M1009 814h13v12h-13z"/><path fill="#b6eb34" d="M129 826h14v13h-14z"/><path fill="#2affd5" d="M459 826h14v13h-14z"/><path fill="#2fffd0" d="M500 826h14v13h-14z"/><path fill="#ffcf00" d="M747 826h14v13h-14z"/><path fill="#fffe00" d="M844 826h13v13h-13z"/><path fill="#beff41" d="M1022 826h14v13h-14z"/><path fill="#b6ff49" d="M1077 826h14v13h-14zM1077 839h14v12h-14z"/><path fill="#5eeb8d" d="M129 839h14v12h-14z"/><path fill="#02fffd" d="M500 839h14v12h-14z"/><path fill="#d2ff2d" d="M692 839h14v12h-14zM926 839h14v12h-14z"/><path fill="#f7ff08" d="M857 839h14v12h-14z"/><path fill="#16ebd5" d="M129 851h14v12h-14z"/><path fill="#00e0ff" d="M225 851h14v12h-14zM706 863h14v12h-14zM1064 875h13v12h-13z"/><path fill="#8fff70" d="M761 851h14v12h-14z"/><path fill="#b2ff4d" d="M899 851h13v12h-13z"/><path fill="#00c0eb" d="M129 863h14v12h-14z"/><path fill="#18ffe7" d="M747 863h14v12h-14z"/><path fill="#00abeb" d="M129 875h14v12h-14z"/><path fill="#00e2ff" d="M857 875h14v12h-14zM1036 875h14v12h-14z"/><path fill="#00ecff" d="M926 875h14v12h-14z"/><path fill="#009beb" d="M129 887h14v13h-14z"/><path fill="#0094eb" d="M129 900h14v12h-14z"/>
<rect x="1130" y="910.14" width="54" height="13.66" fill="#00008f"/><rect x="1130" y="896.78" width="54" height="13.66" fill="#00009f"/><rect x="1130" y="883.42" width="54" height="13.66" fill="#0000af"/><rect x="1130" y="870.06" width="54" height="13.66" fill="#0000bf"/><rect x="1130" y="856.70" width="54" height="13.66" fill="#0000cf"/><rect x="1130" y="843.34" width="54" height="13.66" fill="#0000df"/><rect x="1130" y="829.98" width="54" height="13.66" fill="#0000ef"/><rect x="1130" y="816.62" width="54" height="13.66" fill="#0000ff"/><rect x="1130" y="803.27" width="54" height="13.66" fill="#0010ff"/><rect x="1130" y="789.91" width="54" height="13.66" fill="#0020ff"/><rect x="1130" y="776.55" width="54" height="13.66" fill="#0030ff"/><rect x="1130" y="763.19" width="54" height="13.66" fill="#0040ff"/><rect x="1130" y="749.83" width="54" height="13.66" fill="#0050ff"/><rect x="1130" y="736.47" width="54" height="13.66" fill="#0060ff"/><rect x="1130" y="723.11" width="54" height="13.66" fill="#0070ff"/><rect x="1130" y="709.75" width="54" height="13.66" fill="#0080ff"/><rect x="1130" y="696.39" width="54" height="13.66" fill="#008fff"/><rect x="1130" y="683.03" width="54" height="13.66" fill="#009fff"/><rect x="1130" y="669.67" width="54" height="13.66" fill="#00afff"/><rect x="1130" y="656.31" width="54" height="13.66" fill="#00bfff"/><rect x="1130" y="642.95" width="54" height="13.66" fill="#00cfff"/><rect x="1130" y="629.59" width="54" height="13.66" fill="#00dfff"/><rect x="1130" y="616.23" width="54" height="13.66" fill="#00efff"/><rect x="1130" y="602.88" width="54" height="13.66" fill="#00ffff"/><rect x="1130" y="589.52" width="54" height="13.66" fill="#10ffef"/><rect x="1130" y="576.16" width="54" height="13.66" fill="#20ffdf"/><rect x="1130" y="562.80" width="54" height="13.66" fill="#30ffcf"/><rect x="1130" y="549.44" width="54" height="13.66" fill="#40ffbf"/><rect x="1130" y="536.08" width="54" height="13.66" fill="#50ffaf"/><rect x="1130" y="522.72" width="54" height="13.66" fill="#60ff9f"/><rect x="1130" y="509.36" width="54" height="13.66" fill="#70ff8f"/><rect x="1130" y="496.00" width="54" height="13.66" fill="#80ff80"/><rect x="1130" y="482.64" width="54" height="13.66" fill="#8fff70"/><rect x="1130" y="469.28" width="54" height="13.66" fill="#9fff60"/><rect x="1130" y="455.92" width="54" height="13.66" fill="#afff50"/><rect x="1130" y="442.56" width="54" height="13.66" fill="#bfff40"/><rect x="1130" y="429.20" width="54" height="13.66" fill="#cfff30"/><rect x="1130" y="415.84" width="54" height="13.66" fill="#dfff20"/><rect x="1130" y="402.48" width="54" height="13.66" fill="#efff10"/><rect x="1130" y="389.12" width="54" height="13.66" fill="#ffff00"/><rect x="1130" y="375.77" width="54" height="13.66" fill="#ffef00"/><rect x="1130" y="362.41" width="54" height="13.66" fill="#ffdf00"/><rect x="1130" y="349.05" width="54" height="13.66" fill="#ffcf00"/><rect x="1130" y="335.69" width="54" height="13.66" fill="#ffbf00"/><rect x="1130" y="322.33" width="54" height="13.66" fill="#ffaf00"/><rect x="1130" y="308.97" width="54" height="13.66" fill="#ff9f00"/><rect x="1130" y="295.61" width="54" height="13.66" fill="#ff8f00"/><rect x="1130" y="282.25" width="54" height="13.66" fill="#ff8000"/><rect x="1130" y="268.89" width="54" height="13.66" fill="#ff7000"/><rect x="1130" y="255.53" width="54" height="13.66" fill="#ff6000"/><rect x="1130" y="242.17" width="54" height="13.66" fill="#ff5000"/><rect x="1130" y="228.81" width="54" height="13.66" fill="#ff4000"/><rect x="1130" y="215.45" width="54" height="13.66" fill="#ff3000"/><rect x="1130" y="202.09" width="54" height="13.66" fill="#ff2000"/><rect x="1130" y="188.73" width="54" height="13.66" fill="#ff1000"/><rect x="1130" y="175.38" width="54" height="13.66" fill="#ff0000"/><rect x="1130" y="162.02" width="54" height="13.66" fill="#ef0000"/><rect x="1130" y="148.66" width="54" height="13.66" fill="#df0000"/><rect x="1130" y="135.30" width="54" height="13.66" fill="#cf0000"/><rect x="1130" y="121.94" width="54" height="13.66" fill="#bf0000"/><rect x="1130" y="108.58" width="54" height="13.66" fill="#af0000"/><rect x="1130" y="95.22" width="54" height="13.66" fill="#9f0000"/><rect x="1130" y="81.86" width="54" height="13.66" fill="#8f0000"/><rect x="1130" y="68.50" width="54" height="13.66" fill="#800000"/>
<rect x="128" y="69" width="2" height="857" fill="#262626"/><rect x="1091" y="69" width="2" height="857" fill="#262626"/><rect x="128" y="69" width="965" height="2" fill="#262626"/><rect x="128" y="924" width="965" height="2" fill="#262626"/><rect x="135" y="914" width="2" height="10" fill="#262626"/><rect x="135" y="71" width="2" height="9" fill="#262626"/><rect x="293" y="914" width="2" height="10" fill="#262626"/><rect x="293" y="71" width="2" height="9" fill="#262626"/><rect x="451" y="914" width="2" height="10" fill="#262626"/><rect x="451" y="71" width="2" height="9" fill="#262626"/><rect x="610" y="914" width="2" height="10" fill="#262626"/><rect x="610" y="71" width="2" height="9" fill="#262626"/><rect x="768" y="914" width="2" height="10" fill="#262626"/><rect x="768" y="71" width="2" height="9" fill="#262626"/><rect x="926" y="914" width="2" height="10" fill="#262626"/><rect x="926" y="71" width="2" height="9" fill="#262626"/><rect x="1084" y="914" width="2" height="10" fill="#262626"/><rect x="1084" y="71" width="2" height="9" fill="#262626"/><rect x="130" y="185" width="10" height="2" fill="#262626"/><rect x="1081" y="185" width="10" height="2" fill="#262626"/><rect x="130" y="307" width="10" height="2" fill="#262626"/><rect x="1081" y="307" width="10" height="2" fill="#262626"/><rect x="130" y="429" width="10" height="2" fill="#262626"/><rect x="1081" y="429" width="10" height="2" fill="#262626"/><rect x="130" y="551" width="10" height="2" fill="#262626"/><rect x="1081" y="551" width="10" height="2" fill="#262626"/><rect x="130" y="673" width="10" height="2" fill="#262626"/><rect x="1081" y="673" width="10" height="2" fill="#262626"/><rect x="130" y="795" width="10" height="2" fill="#262626"/><rect x="1081" y="795" width="10" height="2" fill="#262626"/><rect x="130" y="917" width="10" height="2" fill="#262626"/><rect x="1081" y="917" width="10" height="2" fill="#262626"/><rect x="1129" y="69" width="2" height="857" fill="#262626"/><rect x="1183" y="69" width="2" height="857" fill="#262626"/><rect x="1129" y="69" width="56" height="2" fill="#262626"/><rect x="1129" y="924" width="56" height="2" fill="#262626"/><rect x="1174" y="781" width="9" height="2" fill="#262626"/><rect x="1174" y="638" width="9" height="2" fill="#262626"/><rect x="1174" y="496" width="9" height="2" fill="#262626"/><rect x="1174" y="354" width="9" height="2" fill="#262626"/><rect x="1174" y="211" width="9" height="2" fill="#262626"/>
</svg>
<div class="t" id="title">The Original Ionospheric Electron Density Profile</div>
<div class="t yl" style="top:170px">75</div>
<div class="t yl" style="top:292px">80</div>
<div class="t yl" style="top:414px">85</div>
<div class="t yl" style="top:536px">90</div>
<div class="t yl" style="top:658px">85</div>
<div class="t yl" style="top:780px">80</div>
<div class="t yl" style="top:903px">75</div>
<div class="t xl" style="left:86px">-40</div>
<div class="t xl" style="left:244px">-30</div>
<div class="t xl" style="left:402px">-20</div>
<div class="t xl" style="left:560px">-10</div>
<div class="t xl" style="left:719px">0</div>
<div class="t xl" style="left:877px">10</div>
<div class="t xl" style="left:1035px">20</div>
<div class="t" id="xlab">Longitude (deg)</div>
<div class="t" id="ylab">Latitude (deg)</div>
<div class="t" id="clab">Density (el/m<sup style="font-size:21px;vertical-align:13px">3</sup>)</div>
<div class="t cl" style="top:56px">12</div>
<div class="t cl" style="top:198px">10</div>
<div class="t cl" style="top:341px">8</div>
<div class="t cl" style="top:483px">6</div>
<div class="t cl" style="top:625px">4</div>
<div class="t cl" style="top:768px">2</div>
<div class="t cl" style="top:910px">0</div>
<div class="t" style="left:1184px;top:24px;font-size:38px;">&#215;</div><div class="t cl" style="left:1207px;top:26px">10</div><div class="t" style="left:1241px;top:17.5px;font-size:24px;transform:scaleX(0.95);transform-origin:0 50%">5</div>
</body></html>
